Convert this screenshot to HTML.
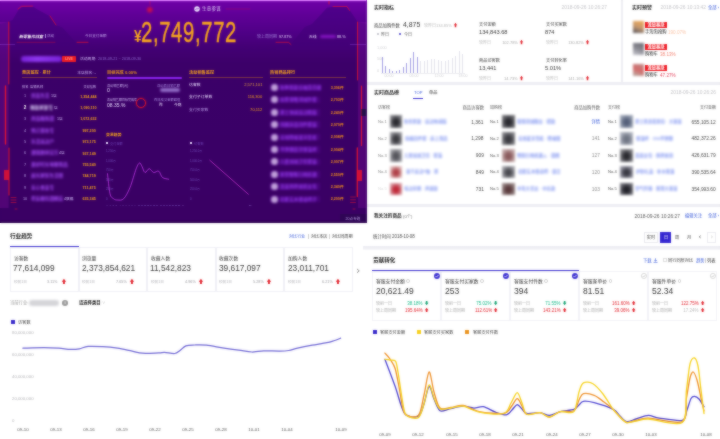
<!DOCTYPE html>
<html lang="zh-CN"><head><meta charset="utf-8"><title>生意参谋 数据看板</title>
<style>
html,body{margin:0;padding:0;}
body{width:720px;height:439px;overflow:hidden;position:relative;background:#fff;
font-family:"Liberation Sans","Noto Sans CJK SC",sans-serif;}
#root{position:absolute;left:0;top:0;width:720px;height:439px;overflow:hidden;}
#soft{position:absolute;left:0;top:0;width:720px;height:439px;-webkit-backdrop-filter:blur(0.8px);backdrop-filter:blur(0.8px);opacity:.55;pointer-events:none;}
#root div,#root span,#root svg{position:absolute;}
#root span{white-space:nowrap;display:block;}
#root svg{overflow:visible;}
.bl{filter:blur(1.2px);}
#bk{position:absolute;left:0;top:0;width:720px;height:439px;overflow:hidden;}
#bk div{position:absolute;}
</style></head><body><div id="bk"><div style="left:0;top:0;width:366.5px;height:222.8px;background:linear-gradient(180deg,#7000a8 0px,#5f0096 16px,#500087 32px,#430074 48px,#3c0069 64px,#3a0064 220px,#2c004e 222.6px);"></div><div style="left:0;top:0;width:366.5px;height:1.2px;background:#d878fa;"></div><div style="left:366.5px;top:0;width:353.5px;height:222.5px;background:#eeeef3;"></div><div style="left:623px;top:0;width:97px;height:82px;background:#fff;"></div><div style="left:367px;top:0;width:253.5px;height:82px;background:#fff;"></div></div><div id="root">
<!-- top-left -->
<div style="left:0;top:0;width:366.5px;height:222.8px;overflow:hidden;background:linear-gradient(180deg,#7000a8 0px,#5f0096 16px,#500087 32px,#430074 48px,#3c0069 64px,#3a0064 220px,#2c004e 222.6px);"></div>
<svg style="left:0;top:0" width="366.5" height="222.5" viewBox="0 0 366.5 222.5"><defs><linearGradient id="mg" x1="0" y1="0" x2="0" y2="1"><stop offset="0" stop-color="#4e008a"/><stop offset="0.75" stop-color="#45007a"/><stop offset="1" stop-color="#430076"/></linearGradient></defs><path d="M0,24 L6,22.5 L12.5,20 L18.7,9.4 L22.5,6.9 L33.7,6.9 L37.5,9.4 L50,16.2 L56,25 L62.5,27.5 L76,42.5 L90,42.5 L90,50 L0,50 Z" fill="url(#mg)" opacity=".95"/><path d="M366.5,24 L360,22.5 L357,21 L350,10.5 L346.5,6.8 L333,6.8 L327,7.8 L312,24 L304.7,27 L291,44 L276,43 L276,50 L366.5,50 Z" fill="url(#mg)" opacity=".95"/><rect x="0" y="0" width="366.5" height="1.2" fill="#d878fa"/><rect x="0" y="22" width="8.6" height="186" fill="#b020c0" opacity=".2"/><rect x="358" y="22" width="8.5" height="186" fill="#b020c0" opacity=".2"/><g fill="none" stroke="#ee142c" stroke-width="0.8" stroke-linecap="round"><path d="M18,9 L21.5,6.3 L32.5,6.1" opacity=".8"/><path d="M50,16 L56,25" opacity=".8"/><path d="M77,42.3 L88,42.3" opacity=".9"/><path d="M17,42.3 L55,42.3" opacity=".6" stroke-width="0.6"/><path d="M8.8,22 L8.8,84" opacity=".95" stroke-width="0.9"/><path d="M5.5,86 L5.5,144" opacity=".9" stroke-width="1.4"/><path d="M9,148 L9,195" opacity=".85" stroke-width="1.1"/><path d="M11,197.5 L16,197.5 M11,200 L16,200 M11,202.5 L16,202.5 M15,209 L17,209" stroke-width="0.7" opacity=".75"/><path d="M333,6.5 L347,6.5 L349.5,10.5" opacity=".8"/><path d="M276,42.3 L288.5,42.3 L291,44.5" opacity=".8"/><path d="M357.6,22 L357.6,80" opacity=".95" stroke-width="0.9"/><path d="M361.5,86 L361.5,145.5" opacity=".85" stroke-width="1.2"/><path d="M357.3,148 L357.3,196.5" opacity=".9" stroke-width="1.3"/><path d="M350.5,197 L355.5,197 M350.5,199.8 L355.5,199.8 M350.5,202.5 L355.5,202.5 M353,209 L355,209" stroke-width="0.7" opacity=".75"/><path d="M150,1.5 L150,5" stroke-width="0.8" opacity=".5"/><path d="M329,1.5 L329,4"/><path d="M226,9 L250,9" stroke-width="0.5" opacity=".5"/></g><rect x="4" y="170" width="5" height="10" fill="#ee142c" opacity=".8"/><rect x="357" y="170" width="5" height="11" fill="#ee142c" opacity=".8"/><circle cx="149.8" cy="9.8" r="2.8" fill="#ee142c" opacity=".7" style="filter:blur(0.9px)"/><path d="M0,44.5 L15,44.5" stroke="#a050e8" stroke-width="0.5" opacity=".7"/><path d="M350,44.5 L366,44.5" stroke="#a050e8" stroke-width="0.5" opacity=".7"/><rect x="361.4" y="109" width="5" height="7" fill="#24104a"/></svg>
<svg style="left:194px;top:6px" width="6" height="6" viewBox="0 0 10 10"><circle cx="5" cy="5" r="4.6" fill="#e8dcfa"/><path d="M2.6 6.4 L4.6 4.4 L5.6 5.4 L7.6 3.2" fill="none" stroke="#6a10b8" stroke-width="1.2"/></svg>
<span style="top:6px;font-size:45px;line-height:54px;color:#dccdf5;left:201.8px;transform-origin:0 0;transform:scale(0.1);letter-spacing:0.06em;">生意参谋</span>
<span style="left:134.2px;top:27px;font-size:17px;line-height:20px;color:#f7a61e;font-weight:700;transform:scaleX(0.8);transform-origin:0 0;">¥</span>
<span style="left:141.2px;top:16.2px;font-size:29px;line-height:33px;color:#f7a61e;font-weight:400;-webkit-text-stroke:0.45px #f7a61e;transform:scaleX(0.70);transform-origin:0 0;letter-spacing:0.9px;">2,749,772</span>
<span style="top:34px;font-size:40px;line-height:48px;color:#fff;font-weight:700;left:19.5px;transform-origin:0 0;transform:scale(0.1) skewX(-14deg);">新零售作战室</span>
<div style="left:45.2px;top:33.8px;width:0.5px;height:4.4px;background:#b090e0;"></div>
<span style="top:34px;font-size:36px;line-height:43.2px;color:#b79be6;left:46.8px;transform-origin:0 0;transform:scale(0.1);">活动</span>
<span style="top:34px;font-size:36px;line-height:43.2px;color:#bfa2ea;left:84.8px;transform-origin:0 0;transform:scale(0.1);">今日支付金额</span>
<span style="top:34px;font-size:40px;line-height:48px;color:#9f80d8;left:256.6px;transform-origin:0 0;transform:scale(0.1);">较上周同期</span>
<span style="top:35px;font-size:37px;line-height:44.4px;color:#e6d8ff;left:278.6px;transform-origin:0 0;transform:scale(0.1);">97.87%</span>
<span style="top:34px;font-size:38px;line-height:45.6px;color:#e6d8ff;left:308.8px;transform-origin:0 0;transform:scale(0.1);">无线</span>
<div style="left:319.5px;top:34.6px;width:16px;height:3px;background:#8414c0;border-radius:1.5px;filter:blur(0.8px);"></div>
<span style="top:34px;font-size:38px;line-height:45.6px;color:#e6d8ff;left:336.8px;transform-origin:0 0;transform:scale(0.1);">88.%</span>
<div style="left:21px;top:55.8px;width:41px;height:5.8px;background:linear-gradient(90deg,#7a22d8,#8d36ec 40%,#7a22d8);border-radius:3px;filter:blur(1.2px);"></div>
<div style="left:62px;top:56px;width:13.5px;height:5.5px;background:#ee1c25;border-radius:0.8px;"></div>
<span style="top:57px;font-size:34px;line-height:40.8px;color:#ff9a8a;font-weight:700;left:68.7px;transform-origin:0 0;transform:scale(0.1) translateX(-50%);">LIVE</span>
<span style="top:56px;font-size:38px;line-height:45.6px;color:#cdb4f2;left:80px;transform-origin:0 0;transform:scale(0.1);">活动周期:</span>
<span style="top:56px;font-size:38px;line-height:45.6px;color:#8f6ad0;left:98px;transform-origin:0 0;transform:scale(0.1);">2018-09-21 ~ 2018-09-30</span>
<span style="top:70px;font-size:42px;line-height:50.4px;color:#f5a41c;font-weight:700;left:22px;transform-origin:0 0;transform:scale(0.1);">竞店监控 · 累计</span>
<div style="left:22px;top:77.3px;width:74.5px;height:0.6px;background:#a8582e;opacity:.6;"></div>
<span style="top:70px;font-size:38px;line-height:45.6px;color:#cdb4f2;right:624px;transform-origin:100% 0;transform:scale(0.1);">本店排名: -</span>
<span style="top:70px;font-size:42px;line-height:50.4px;color:#e8981c;font-weight:700;left:106.8px;transform-origin:0 0;transform:scale(0.1);">目标完成 0.00%</span>
<div style="left:107px;top:76.8px;width:75px;height:2px;background:#8a22ee;border-radius:1px;"></div>
<span style="top:70px;font-size:42px;line-height:50.4px;color:#f5a41c;font-weight:700;left:188.5px;transform-origin:0 0;transform:scale(0.1);">活动销售监控</span>
<div style="left:188.5px;top:77.3px;width:74.5px;height:0.6px;background:#a8582e;opacity:.6;"></div>
<span style="top:70px;font-size:42px;line-height:50.4px;color:#f5a41c;font-weight:700;left:270px;transform-origin:0 0;transform:scale(0.1);">热销商品排行</span>
<div style="left:270px;top:77.3px;width:75.5px;height:0.6px;background:#a8582e;opacity:.6;"></div>
<span style="top:85px;font-size:33px;line-height:39.6px;color:#cdb4f2;left:21.8px;transform-origin:0 0;transform:scale(0.1);">排名</span>
<span style="top:85px;font-size:33px;line-height:39.6px;color:#cdb4f2;left:29.6px;transform-origin:0 0;transform:scale(0.1);">店铺名称</span>
<span style="top:85px;font-size:31px;line-height:37.2px;color:#cdb4f2;right:624px;transform-origin:100% 0;transform:scale(0.1);">交易指数</span>
<span style="top:93px;font-size:38px;line-height:45.6px;color:#b9a0e6;left:24.5px;transform-origin:0 0;transform:scale(0.1) translateX(-50%);">1</span>
<span style="top:93px;font-size:46px;line-height:55.2px;color:#a64ef8;font-weight:700;left:31px;transform-origin:0 0;transform:scale(0.1);filter:blur(9px);">优品生活</span>
<span style="top:94px;font-size:37px;line-height:44.4px;color:#c8b0f0;left:50.5px;transform-origin:0 0;transform:scale(0.1);">1店</span>
<span style="top:95px;font-size:37px;line-height:44.4px;color:#f5a41c;font-weight:700;right:623.8px;transform-origin:100% 0;transform:scale(0.1);">1,354,444</span>
<span style="top:105px;font-size:46px;line-height:55.2px;color:#fff;font-weight:700;left:24.5px;transform-origin:0 0;transform:scale(0.1) translateX(-50%);">2</span>
<span style="top:105px;font-size:46px;line-height:55.2px;color:#dccff8;font-weight:700;left:30px;transform-origin:0 0;transform:scale(0.1);filter:blur(9px);">雅致家居专</span>
<span style="top:106px;font-size:37px;line-height:44.4px;color:#c8b0f0;left:53.5px;transform-origin:0 0;transform:scale(0.1);">店</span>
<span style="top:106px;font-size:37px;line-height:44.4px;color:#f5a41c;font-weight:700;right:623.8px;transform-origin:100% 0;transform:scale(0.1);">1,090,110</span>
<span style="top:116px;font-size:38px;line-height:45.6px;color:#b9a0e6;left:24.5px;transform-origin:0 0;transform:scale(0.1) translateX(-50%);">3</span>
<span style="top:116px;font-size:46px;line-height:55.2px;color:#a64ef8;font-weight:700;left:31px;transform-origin:0 0;transform:scale(0.1);filter:blur(9px);">尚品服饰旗</span>
<span style="top:117px;font-size:37px;line-height:44.4px;color:#c8b0f0;left:56.5px;transform-origin:0 0;transform:scale(0.1);">1店</span>
<span style="top:117px;font-size:37px;line-height:44.4px;color:#f5a41c;font-weight:700;right:623.8px;transform-origin:100% 0;transform:scale(0.1);">1,072,632</span>
<span style="top:128px;font-size:38px;line-height:45.6px;color:#b9a0e6;left:24.5px;transform-origin:0 0;transform:scale(0.1) translateX(-50%);">4</span>
<span style="top:128px;font-size:46px;line-height:55.2px;color:#a64ef8;font-weight:700;left:31px;transform-origin:0 0;transform:scale(0.1);filter:blur(9px);">悦己美妆专</span>
<span style="top:129px;font-size:37px;line-height:44.4px;color:#f5a41c;font-weight:700;right:623.8px;transform-origin:100% 0;transform:scale(0.1);">997,200</span>
<span style="top:139px;font-size:38px;line-height:45.6px;color:#b9a0e6;left:24.5px;transform-origin:0 0;transform:scale(0.1) translateX(-50%);">5</span>
<span style="top:139px;font-size:46px;line-height:55.2px;color:#a64ef8;font-weight:700;left:31px;transform-origin:0 0;transform:scale(0.1);filter:blur(9px);">乐活运动户</span>
<span style="top:140px;font-size:37px;line-height:44.4px;color:#f5a41c;font-weight:700;right:623.8px;transform-origin:100% 0;transform:scale(0.1);">973,175</span>
<span style="top:150px;font-size:38px;line-height:45.6px;color:#b9a0e6;left:24.5px;transform-origin:0 0;transform:scale(0.1) translateX(-50%);">6</span>
<span style="top:150px;font-size:46px;line-height:55.2px;color:#a64ef8;font-weight:700;left:31px;transform-origin:0 0;transform:scale(0.1);filter:blur(9px);">潮流数码官方</span>
<span style="top:151px;font-size:37px;line-height:44.4px;color:#c8b0f0;left:58.5px;transform-origin:0 0;transform:scale(0.1);">4店</span>
<span style="top:152px;font-size:37px;line-height:44.4px;color:#f5a41c;font-weight:700;right:623.8px;transform-origin:100% 0;transform:scale(0.1);">937,149</span>
<span style="top:162px;font-size:38px;line-height:45.6px;color:#b9a0e6;left:24.5px;transform-origin:0 0;transform:scale(0.1) translateX(-50%);">7</span>
<span style="top:162px;font-size:46px;line-height:55.2px;color:#a64ef8;font-weight:700;left:31px;transform-origin:0 0;transform:scale(0.1);filter:blur(9px);">美好时光母婴用品</span>
<span style="top:163px;font-size:37px;line-height:44.4px;color:#f5a41c;font-weight:700;right:623.8px;transform-origin:100% 0;transform:scale(0.1);">755,540</span>
<span style="top:173px;font-size:38px;line-height:45.6px;color:#b9a0e6;left:24.5px;transform-origin:0 0;transform:scale(0.1) translateX(-50%);">8</span>
<span style="top:173px;font-size:46px;line-height:55.2px;color:#a64ef8;font-weight:700;left:31px;transform-origin:0 0;transform:scale(0.1);filter:blur(9px);">晨光家纺生活馆</span>
<span style="top:174px;font-size:37px;line-height:44.4px;color:#f5a41c;font-weight:700;right:623.8px;transform-origin:100% 0;transform:scale(0.1);">744,719</span>
<span style="top:185px;font-size:38px;line-height:45.6px;color:#b9a0e6;left:24.5px;transform-origin:0 0;transform:scale(0.1) translateX(-50%);">9</span>
<span style="top:185px;font-size:46px;line-height:55.2px;color:#a64ef8;font-weight:700;left:31px;transform-origin:0 0;transform:scale(0.1);filter:blur(9px);">安心食品专</span>
<span style="top:186px;font-size:37px;line-height:44.4px;color:#f5a41c;font-weight:700;right:623.8px;transform-origin:100% 0;transform:scale(0.1);">711,475</span>
<span style="top:196px;font-size:38px;line-height:45.6px;color:#b9a0e6;left:24.5px;transform-origin:0 0;transform:scale(0.1) translateX(-50%);">10</span>
<span style="top:196px;font-size:46px;line-height:55.2px;color:#a64ef8;font-weight:700;left:31px;transform-origin:0 0;transform:scale(0.1);filter:blur(9px);">星辰箱包旗舰店</span>
<span style="top:197px;font-size:37px;line-height:44.4px;color:#c8b0f0;left:63.5px;transform-origin:0 0;transform:scale(0.1);">4旗舰</span>
<span style="top:197px;font-size:37px;line-height:44.4px;color:#f5a41c;font-weight:700;right:623.8px;transform-origin:100% 0;transform:scale(0.1);">635,345</span>
<span style="top:84px;font-size:32px;line-height:38.4px;color:#cdb4f2;left:107px;transform-origin:0 0;transform:scale(0.1);">活动销售额(元)</span>
<span style="top:87px;font-size:52px;line-height:62.4px;color:#e8dcff;left:107px;transform-origin:0 0;transform:scale(0.1);">0</span>
<span style="top:84px;font-size:33px;line-height:39.6px;color:#a88ae0;left:156.5px;transform-origin:0 0;transform:scale(0.1);">活动首日销售额</span>
<div style="left:160px;top:88px;width:20px;height:4.4px;background:#a88ae0;border-radius:2px;filter:blur(1.2px);opacity:.8"></div>
<span style="top:98px;font-size:30px;line-height:36px;color:#cdb4f2;left:107px;transform-origin:0 0;transform:scale(0.1);">活动销售额目标完成率</span>
<span style="top:102px;font-size:50px;line-height:60px;color:#e8dcff;left:107px;transform-origin:0 0;transform:scale(0.1);">08.35.%</span>
<div style="left:136px;top:98.2px;width:10px;height:10px;border-radius:50%;border:1.2px solid #e0142a;box-sizing:border-box;box-shadow:0 0 1.5px #e0142a;"></div>
<span style="top:98px;font-size:33px;line-height:39.6px;color:#a88ae0;left:153.8px;transform-origin:0 0;transform:scale(0.1);">昨日成交金额峰值</span>
<span style="top:102px;font-size:38px;line-height:45.6px;color:#e8dcff;left:159px;transform-origin:0 0;transform:scale(0.1);">昨</span>
<span style="top:102px;font-size:38px;line-height:45.6px;color:#e8dcff;left:174px;transform-origin:0 0;transform:scale(0.1);">今晚</span>
<span style="top:132px;font-size:39px;line-height:46.8px;color:#f5a41c;font-weight:700;left:105.5px;transform-origin:0 0;transform:scale(0.1);">交易趋势</span>
<div style="left:106px;top:142px;width:2.2px;height:2.2px;background:#e8dcff;"></div>
<span style="top:142px;font-size:32px;line-height:38.4px;color:#6a3eb0;left:110px;transform-origin:0 0;transform:scale(0.1);">支付金额</span>
<span style="top:149px;font-size:28px;line-height:33.6px;color:#6f4cb8;left:106px;transform-origin:0 0;transform:scale(0.1);">1,250万</span>
<span style="top:159px;font-size:28px;line-height:33.6px;color:#6f4cb8;left:106px;transform-origin:0 0;transform:scale(0.1);">1,000万</span>
<span style="top:168px;font-size:28px;line-height:33.6px;color:#6f4cb8;left:106px;transform-origin:0 0;transform:scale(0.1);">750万</span>
<span style="top:178px;font-size:28px;line-height:33.6px;color:#6f4cb8;left:106px;transform-origin:0 0;transform:scale(0.1);">500万</span>
<span style="top:187px;font-size:28px;line-height:33.6px;color:#6f4cb8;left:106px;transform-origin:0 0;transform:scale(0.1);">250万</span>
<span style="top:197px;font-size:28px;line-height:33.6px;color:#6f4cb8;left:106px;transform-origin:0 0;transform:scale(0.1);">0</span>
<span style="top:204px;font-size:22px;line-height:26.4px;color:#7d58c4;left:107.0px;transform-origin:0 0;transform:scale(0.1) translateX(-50%);">0</span>
<span style="top:204px;font-size:22px;line-height:26.4px;color:#7d58c4;left:110.15px;transform-origin:0 0;transform:scale(0.1) translateX(-50%);">1</span>
<span style="top:204px;font-size:22px;line-height:26.4px;color:#7d58c4;left:113.3px;transform-origin:0 0;transform:scale(0.1) translateX(-50%);">2</span>
<span style="top:204px;font-size:22px;line-height:26.4px;color:#7d58c4;left:116.45px;transform-origin:0 0;transform:scale(0.1) translateX(-50%);">3</span>
<span style="top:204px;font-size:22px;line-height:26.4px;color:#7d58c4;left:119.6px;transform-origin:0 0;transform:scale(0.1) translateX(-50%);">4</span>
<span style="top:204px;font-size:22px;line-height:26.4px;color:#7d58c4;left:122.75px;transform-origin:0 0;transform:scale(0.1) translateX(-50%);">5</span>
<span style="top:204px;font-size:22px;line-height:26.4px;color:#7d58c4;left:125.9px;transform-origin:0 0;transform:scale(0.1) translateX(-50%);">6</span>
<span style="top:204px;font-size:22px;line-height:26.4px;color:#7d58c4;left:129.05px;transform-origin:0 0;transform:scale(0.1) translateX(-50%);">7</span>
<span style="top:204px;font-size:22px;line-height:26.4px;color:#7d58c4;left:132.2px;transform-origin:0 0;transform:scale(0.1) translateX(-50%);">8</span>
<span style="top:204px;font-size:22px;line-height:26.4px;color:#7d58c4;left:135.35px;transform-origin:0 0;transform:scale(0.1) translateX(-50%);">9</span>
<span style="top:204px;font-size:22px;line-height:26.4px;color:#7d58c4;left:138.5px;transform-origin:0 0;transform:scale(0.1) translateX(-50%);">10</span>
<span style="top:204px;font-size:22px;line-height:26.4px;color:#7d58c4;left:141.65px;transform-origin:0 0;transform:scale(0.1) translateX(-50%);">11</span>
<span style="top:204px;font-size:22px;line-height:26.4px;color:#7d58c4;left:144.8px;transform-origin:0 0;transform:scale(0.1) translateX(-50%);">12</span>
<span style="top:204px;font-size:22px;line-height:26.4px;color:#7d58c4;left:147.95px;transform-origin:0 0;transform:scale(0.1) translateX(-50%);">13</span>
<span style="top:204px;font-size:22px;line-height:26.4px;color:#7d58c4;left:151.1px;transform-origin:0 0;transform:scale(0.1) translateX(-50%);">14</span>
<span style="top:204px;font-size:22px;line-height:26.4px;color:#7d58c4;left:154.25px;transform-origin:0 0;transform:scale(0.1) translateX(-50%);">15</span>
<span style="top:204px;font-size:22px;line-height:26.4px;color:#7d58c4;left:157.4px;transform-origin:0 0;transform:scale(0.1) translateX(-50%);">16</span>
<span style="top:204px;font-size:22px;line-height:26.4px;color:#7d58c4;left:160.55px;transform-origin:0 0;transform:scale(0.1) translateX(-50%);">17</span>
<span style="top:204px;font-size:22px;line-height:26.4px;color:#7d58c4;left:163.7px;transform-origin:0 0;transform:scale(0.1) translateX(-50%);">18</span>
<span style="top:204px;font-size:22px;line-height:26.4px;color:#7d58c4;left:166.85px;transform-origin:0 0;transform:scale(0.1) translateX(-50%);">19</span>
<span style="top:204px;font-size:22px;line-height:26.4px;color:#7d58c4;left:170.0px;transform-origin:0 0;transform:scale(0.1) translateX(-50%);">20</span>
<span style="top:204px;font-size:22px;line-height:26.4px;color:#7d58c4;left:173.14999999999998px;transform-origin:0 0;transform:scale(0.1) translateX(-50%);">21</span>
<span style="top:204px;font-size:22px;line-height:26.4px;color:#7d58c4;left:176.3px;transform-origin:0 0;transform:scale(0.1) translateX(-50%);">22</span>
<span style="top:204px;font-size:22px;line-height:26.4px;color:#7d58c4;left:179.45px;transform-origin:0 0;transform:scale(0.1) translateX(-50%);">23</span>
<svg style="left:0;top:0" width="366" height="222" viewBox="0 0 366 222"><path d="M107.5,173.7 C107.9,177.0 109.0,189.5 110.0,193.7 C111.0,197.9 112.2,197.6 113.5,198.7 C114.8,199.8 115.8,200.0 117.5,200.0 C119.2,200.0 121.6,200.8 123.7,198.7 C125.8,196.6 127.9,192.5 130.0,187.5 C132.1,182.5 134.6,172.8 136.2,168.7 C137.8,164.6 138.5,163.4 139.5,163.0 C140.5,162.6 141.1,164.9 142.0,166.5 C142.9,168.1 143.8,172.1 145.0,172.5 C146.2,172.9 147.8,168.7 149.2,168.7 C150.6,168.7 152.1,172.1 153.7,172.5 C155.3,172.9 157.2,170.4 158.7,171.2 C160.2,172.0 160.8,176.2 162.5,177.5 C164.2,178.8 167.7,178.9 168.7,179.2" fill="none" stroke="#c23ae8" stroke-width="0.8" stroke-linecap="round"/><path d="M209.5,160 L248.7,194.5" stroke="#d23ad8" stroke-width="0.7" fill="none"/></svg>
<span style="top:82px;font-size:39px;line-height:46.8px;color:#e8dcff;left:189px;transform-origin:0 0;transform:scale(0.1);">访客数</span>
<span style="top:82px;font-size:41px;line-height:49.2px;color:#e0a040;right:457.5px;transform-origin:100% 0;transform:scale(0.1);">2,571,101</span>
<span style="top:94px;font-size:39px;line-height:46.8px;color:#e8dcff;left:189px;transform-origin:0 0;transform:scale(0.1);">支付子订单数</span>
<span style="top:94px;font-size:41px;line-height:49.2px;color:#f5a41c;right:457.5px;transform-origin:100% 0;transform:scale(0.1);">116,300</span>
<span style="top:107px;font-size:39px;line-height:46.8px;color:#b79be6;left:189px;transform-origin:0 0;transform:scale(0.1);">支付买家数</span>
<span style="top:107px;font-size:41px;line-height:49.2px;color:#f5a41c;right:457.5px;transform-origin:100% 0;transform:scale(0.1);">70,112</span>
<div style="left:189.8px;top:142px;width:2.2px;height:2.2px;background:#e8dcff;"></div>
<span style="top:142px;font-size:32px;line-height:38.4px;color:#6a3eb0;left:193.8px;transform-origin:0 0;transform:scale(0.1);">访客数</span>
<span style="top:149px;font-size:28px;line-height:33.6px;color:#6f4cb8;left:190px;transform-origin:0 0;transform:scale(0.1);">1,250.0万</span>
<span style="top:159px;font-size:28px;line-height:33.6px;color:#6f4cb8;left:190px;transform-origin:0 0;transform:scale(0.1);">1,000.0万</span>
<span style="top:168px;font-size:28px;line-height:33.6px;color:#6f4cb8;left:190px;transform-origin:0 0;transform:scale(0.1);">750.0万</span>
<span style="top:178px;font-size:28px;line-height:33.6px;color:#6f4cb8;left:190px;transform-origin:0 0;transform:scale(0.1);">500.0万</span>
<span style="top:187px;font-size:28px;line-height:33.6px;color:#6f4cb8;left:190px;transform-origin:0 0;transform:scale(0.1);">250.0万</span>
<span style="top:197px;font-size:28px;line-height:33.6px;color:#6f4cb8;left:190px;transform-origin:0 0;transform:scale(0.1);">0</span>
<span style="top:204px;font-size:24px;line-height:28.8px;color:#9a7ad8;left:182.5px;transform-origin:0 0;transform:scale(0.1) translateX(-50%);">0</span>
<span style="top:204px;font-size:24px;line-height:28.8px;color:#9a7ad8;left:249.5px;transform-origin:0 0;transform:scale(0.1) translateX(-50%);">10</span>
<div style="left:270px;top:84.1px;width:50px;height:6.8px;background:#5a0c9a;opacity:.45;filter:blur(0.8px);"></div>
<div style="left:270.5px;top:83.9px;width:7.2px;height:7.2px;border-radius:50%;background:#c0a0da;filter:blur(1.1px);"></div>
<span style="top:85px;font-size:46px;line-height:55.2px;color:#9238e8;font-weight:700;left:279.5px;transform-origin:0 0;transform:scale(0.1);filter:blur(12px);">秋季新款长袖连衣裙</span>
<span style="top:86px;font-size:37px;line-height:44.4px;color:#f2901c;font-weight:700;right:376.5px;transform-origin:100% 0;transform:scale(0.1);">3,306件</span>
<div style="left:270px;top:96.5px;width:50px;height:6.8px;background:#5a0c9a;opacity:.45;filter:blur(0.8px);"></div>
<div style="left:270.5px;top:96.3px;width:7.2px;height:7.2px;border-radius:50%;background:#c0a0da;filter:blur(1.1px);"></div>
<span style="top:97px;font-size:46px;line-height:55.2px;color:#9238e8;font-weight:700;left:279.5px;transform-origin:0 0;transform:scale(0.1);filter:blur(12px);">加厚保暖羽绒外套</span>
<span style="top:98px;font-size:37px;line-height:44.4px;color:#f2901c;font-weight:700;right:376.5px;transform-origin:100% 0;transform:scale(0.1);">2,703件</span>
<div style="left:270px;top:108.9px;width:50px;height:6.8px;background:#5a0c9a;opacity:.45;filter:blur(0.8px);"></div>
<div style="left:270.5px;top:108.7px;width:7.2px;height:7.2px;border-radius:50%;background:#c0a0da;filter:blur(1.1px);"></div>
<span style="top:110px;font-size:46px;line-height:55.2px;color:#9238e8;font-weight:700;left:279.5px;transform-origin:0 0;transform:scale(0.1);filter:blur(12px);">男士休闲运动跑鞋</span>
<span style="top:111px;font-size:37px;line-height:44.4px;color:#f2901c;font-weight:700;right:376.5px;transform-origin:100% 0;transform:scale(0.1);">2,240件</span>
<div style="left:270px;top:121.3px;width:50px;height:6.8px;background:#5a0c9a;opacity:.45;filter:blur(0.8px);"></div>
<div style="left:270.5px;top:121.1px;width:7.2px;height:7.2px;border-radius:50%;background:#c0a0da;filter:blur(1.1px);"></div>
<span style="top:122px;font-size:46px;line-height:55.2px;color:#9238e8;font-weight:700;left:279.5px;transform-origin:0 0;transform:scale(0.1);filter:blur(12px);">纯棉床品四件套装</span>
<span style="top:123px;font-size:37px;line-height:44.4px;color:#f2901c;font-weight:700;right:376.5px;transform-origin:100% 0;transform:scale(0.1);">2,070件</span>
<div style="left:270px;top:133.7px;width:50px;height:6.8px;background:#5a0c9a;opacity:.45;filter:blur(0.8px);"></div>
<div style="left:270.5px;top:133.5px;width:7.2px;height:7.2px;border-radius:50%;background:#c0a0da;filter:blur(1.1px);"></div>
<span style="top:135px;font-size:46px;line-height:55.2px;color:#9238e8;font-weight:700;left:279.5px;transform-origin:0 0;transform:scale(0.1);filter:blur(12px);">无线降噪蓝牙耳机</span>
<span style="top:135px;font-size:37px;line-height:44.4px;color:#f2901c;font-weight:700;right:376.5px;transform-origin:100% 0;transform:scale(0.1);">2,008件</span>
<div style="left:270px;top:146.1px;width:50px;height:6.8px;background:#5a0c9a;opacity:.45;filter:blur(0.8px);"></div>
<div style="left:270.5px;top:145.9px;width:7.2px;height:7.2px;border-radius:50%;background:#c0a0da;filter:blur(1.1px);"></div>
<span style="top:147px;font-size:46px;line-height:55.2px;color:#9238e8;font-weight:700;left:279.5px;transform-origin:0 0;transform:scale(0.1);filter:blur(12px);">不锈钢真空保温杯</span>
<span style="top:148px;font-size:37px;line-height:44.4px;color:#f2901c;font-weight:700;right:376.5px;transform-origin:100% 0;transform:scale(0.1);">2,004件</span>
<div style="left:270px;top:158.5px;width:50px;height:6.8px;background:#5a0c9a;opacity:.45;filter:blur(0.8px);"></div>
<div style="left:270.5px;top:158.3px;width:7.2px;height:7.2px;border-radius:50%;background:#c0a0da;filter:blur(1.1px);"></div>
<span style="top:159px;font-size:46px;line-height:55.2px;color:#9238e8;font-weight:700;left:279.5px;transform-origin:0 0;transform:scale(0.1);filter:blur(12px);">儿童加绒卫衣套装</span>
<span style="top:160px;font-size:37px;line-height:44.4px;color:#f2901c;font-weight:700;right:376.5px;transform-origin:100% 0;transform:scale(0.1);">2,007件</span>
<div style="left:270px;top:170.9px;width:50px;height:6.8px;background:#5a0c9a;opacity:.45;filter:blur(0.8px);"></div>
<div style="left:270.5px;top:170.7px;width:7.2px;height:7.2px;border-radius:50%;background:#c0a0da;filter:blur(1.1px);"></div>
<span style="top:172px;font-size:46px;line-height:55.2px;color:#9238e8;font-weight:700;left:279.5px;transform-origin:0 0;transform:scale(0.1);filter:blur(12px);">家用智能扫地机器</span>
<span style="top:173px;font-size:37px;line-height:44.4px;color:#f2901c;font-weight:700;right:376.5px;transform-origin:100% 0;transform:scale(0.1);">2,550件</span>
<div style="left:270px;top:183.3px;width:50px;height:6.8px;background:#5a0c9a;opacity:.45;filter:blur(0.8px);"></div>
<div style="left:270.5px;top:183.1px;width:7.2px;height:7.2px;border-radius:50%;background:#c0a0da;filter:blur(1.1px);"></div>
<span style="top:184px;font-size:46px;line-height:55.2px;color:#9238e8;font-weight:700;left:279.5px;transform-origin:0 0;transform:scale(0.1);filter:blur(12px);">真皮斜挎单肩女包</span>
<span style="top:185px;font-size:37px;line-height:44.4px;color:#f2901c;font-weight:700;right:376.5px;transform-origin:100% 0;transform:scale(0.1);">2,340件</span>
<div style="left:270px;top:195.7px;width:50px;height:6.8px;background:#5a0c9a;opacity:.45;filter:blur(0.8px);"></div>
<div style="left:270.5px;top:195.5px;width:7.2px;height:7.2px;border-radius:50%;background:#c0a0da;filter:blur(1.1px);"></div>
<span style="top:197px;font-size:46px;line-height:55.2px;color:#9238e8;font-weight:700;left:279.5px;transform-origin:0 0;transform:scale(0.1);filter:blur(12px);">北欧实木餐桌椅子</span>
<span style="top:197px;font-size:37px;line-height:44.4px;color:#f2901c;font-weight:700;right:376.5px;transform-origin:100% 0;transform:scale(0.1);">2,200件</span>
<div style="left:340px;top:214.3px;width:26.5px;height:8.2px;background:#2f0556;"></div>
<span style="top:217px;font-size:36px;line-height:43.2px;color:#b9a0e0;left:352.5px;transform-origin:0 0;transform:scale(0.1) translateX(-50%);">20点专题</span>
<!-- top-right -->
<div style="left:366.5px;top:0px;width:353.5px;height:222.5px;background:#eeeef3;"></div>
<div style="left:367px;top:0px;width:253.5px;height:82px;background:#fff;"></div>
<div style="left:623px;top:0px;width:97px;height:82px;background:#fff;"></div>
<div style="left:367px;top:85px;width:353px;height:118.5px;background:#fff;"></div>
<div style="left:367px;top:206.5px;width:353px;height:16px;background:#fff;"></div>
<span style="top:4px;font-size:50px;line-height:60px;color:#222;font-weight:700;left:374px;transform-origin:0 0;transform:scale(0.1);">实时指标</span>
<span style="top:4px;font-size:49px;line-height:58.8px;color:#c4c4c8;right:113px;transform-origin:100% 0;transform:scale(0.1);">2018-09-26 10:26:27</span>
<span style="top:23px;font-size:43px;line-height:51.6px;color:#333;left:374px;transform-origin:0 0;transform:scale(0.1);">商品加购件数</span>
<span style="top:21px;font-size:69px;line-height:82.8px;color:#333;left:403.3px;transform-origin:0 0;transform:scale(0.1);">4,875</span>
<span style="top:23px;font-size:40px;line-height:48px;color:#bbb;left:424px;transform-origin:0 0;transform:scale(0.1);">较昨日134.85%</span>
<svg style="left:453.5px;top:23.3px" width="3" height="4.3" viewBox="0 0 4 6" preserveAspectRatio="none" overflow="visible"><path d="M2 -0.2 L4.2 3.3 L3 3.3 L3 6 L1 6 L1 3.3 L-0.2 3.3 Z" fill="#e0202a"/></svg>
<div style="left:376.5px;top:33px;width:2.2px;height:2.2px;background:#c8c8d0;"></div>
<span style="top:32px;font-size:40px;line-height:48px;color:#555;left:381px;transform-origin:0 0;transform:scale(0.1);">昨日</span>
<div style="left:399px;top:33px;width:2.2px;height:2.2px;background:#6a62d2;"></div>
<span style="top:32px;font-size:40px;line-height:48px;color:#555;left:403.5px;transform-origin:0 0;transform:scale(0.1);">今日</span>
<span style="top:45px;font-size:39px;line-height:46.8px;color:#d2d2d6;left:376.5px;transform-origin:0 0;transform:scale(0.1);">1,000</span>
<span style="top:56px;font-size:39px;line-height:46.8px;color:#d2d2d6;left:376.5px;transform-origin:0 0;transform:scale(0.1);">500</span>
<span style="top:68px;font-size:39px;line-height:46.8px;color:#d2d2d6;left:376.5px;transform-origin:0 0;transform:scale(0.1);">0</span>
<span style="top:74px;font-size:36px;line-height:43.2px;color:#d2d2d6;left:389px;transform-origin:0 0;transform:scale(0.1) translateX(-50%);">00:00</span>
<span style="top:74px;font-size:36px;line-height:43.2px;color:#d2d2d6;left:413.5px;transform-origin:0 0;transform:scale(0.1) translateX(-50%);">06:00</span>
<span style="top:74px;font-size:36px;line-height:43.2px;color:#d2d2d6;left:439px;transform-origin:0 0;transform:scale(0.1) translateX(-50%);">12:00</span>
<span style="top:74px;font-size:36px;line-height:43.2px;color:#d2d2d6;left:463.3px;transform-origin:0 0;transform:scale(0.1) translateX(-50%);">18:00</span>
<div style="left:381px;top:72.9px;width:84px;height:0.4px;background:#ececf0;"></div>
<div style="left:381.6px;top:56.8px;width:1.1px;height:16.2px;background:#9f9ce2;"></div>
<div style="left:385.1px;top:65.5px;width:1.1px;height:7.5px;background:#9f9ce2;"></div>
<div style="left:388.6px;top:69.2px;width:1.1px;height:3.8px;background:#9f9ce2;"></div>
<div style="left:392.1px;top:71px;width:1.1px;height:2px;background:#9f9ce2;"></div>
<div style="left:395.6px;top:71.2px;width:1.1px;height:1.8px;background:#9f9ce2;"></div>
<div style="left:399.1px;top:70px;width:1.1px;height:3px;background:#9f9ce2;"></div>
<div style="left:402.6px;top:67.2px;width:1.1px;height:5.8px;background:#9f9ce2;"></div>
<div style="left:406.1px;top:63px;width:1.1px;height:10px;background:#9f9ce2;"></div>
<div style="left:409.6px;top:58px;width:1.1px;height:15px;background:#9f9ce2;"></div>
<div style="left:413.1px;top:52.2px;width:1.1px;height:20.8px;background:#9f9ce2;"></div>
<div style="left:416.6px;top:57.2px;width:1.1px;height:15.8px;background:#9f9ce2;"></div>
<div style="left:420.1px;top:60.5px;width:1.1px;height:12.5px;background:#e2e2ea;"></div>
<div style="left:423.6px;top:60.5px;width:1.1px;height:12.5px;background:#e2e2ea;"></div>
<div style="left:427.1px;top:60px;width:1.1px;height:13px;background:#e2e2ea;"></div>
<div style="left:430.6px;top:59.2px;width:1.1px;height:13.8px;background:#e2e2ea;"></div>
<div style="left:434.1px;top:58.8px;width:1.1px;height:14.2px;background:#e2e2ea;"></div>
<div style="left:437.6px;top:60px;width:1.1px;height:13px;background:#e2e2ea;"></div>
<div style="left:441.1px;top:60.5px;width:1.1px;height:12.5px;background:#e2e2ea;"></div>
<div style="left:444.6px;top:60.5px;width:1.1px;height:12.5px;background:#e2e2ea;"></div>
<div style="left:448.1px;top:60px;width:1.1px;height:13px;background:#e2e2ea;"></div>
<div style="left:451.6px;top:58px;width:1.1px;height:15px;background:#e2e2ea;"></div>
<div style="left:455.1px;top:55.5px;width:1.1px;height:17.5px;background:#e2e2ea;"></div>
<div style="left:458.6px;top:51.2px;width:1.1px;height:21.8px;background:#e2e2ea;"></div>
<div style="left:462.1px;top:54.2px;width:1.1px;height:18.8px;background:#e2e2ea;"></div>
<span style="top:22px;font-size:42px;line-height:50.4px;color:#333;left:479px;transform-origin:0 0;transform:scale(0.1);">支付金额</span>
<span style="top:29px;font-size:57px;line-height:68.4px;color:#333;left:478.8px;transform-origin:0 0;transform:scale(0.1);">134,843.68</span>
<span style="top:40px;font-size:40px;line-height:48px;color:#bbb;left:479px;transform-origin:0 0;transform:scale(0.1);">较昨日</span>
<span style="top:40px;font-size:40px;line-height:48px;color:#aaa;right:202.5px;transform-origin:100% 0;transform:scale(0.1);">102.78%</span>
<svg style="left:519.5px;top:40.099999999999994px" width="3" height="4.3" viewBox="0 0 4 6" preserveAspectRatio="none" overflow="visible"><path d="M2 -0.2 L4.2 3.3 L3 3.3 L3 6 L1 6 L1 3.3 L-0.2 3.3 Z" fill="#e0202a"/></svg>
<span style="top:22px;font-size:42px;line-height:50.4px;color:#333;left:545.5px;transform-origin:0 0;transform:scale(0.1);">支付买家数</span>
<span style="top:29px;font-size:57px;line-height:68.4px;color:#333;left:545.3px;transform-origin:0 0;transform:scale(0.1);">874</span>
<span style="top:40px;font-size:40px;line-height:48px;color:#bbb;left:545.5px;transform-origin:0 0;transform:scale(0.1);">较昨日</span>
<span style="top:40px;font-size:40px;line-height:48px;color:#aaa;right:136px;transform-origin:100% 0;transform:scale(0.1);">130.82%</span>
<svg style="left:586px;top:40.099999999999994px" width="3" height="4.3" viewBox="0 0 4 6" preserveAspectRatio="none" overflow="visible"><path d="M2 -0.2 L4.2 3.3 L3 3.3 L3 6 L1 6 L1 3.3 L-0.2 3.3 Z" fill="#e0202a"/></svg>
<span style="top:58px;font-size:42px;line-height:50.4px;color:#333;left:479px;transform-origin:0 0;transform:scale(0.1);">商品访客数</span>
<span style="top:65px;font-size:57px;line-height:68.4px;color:#333;left:478.8px;transform-origin:0 0;transform:scale(0.1);">13,441</span>
<span style="top:76px;font-size:40px;line-height:48px;color:#bbb;left:479px;transform-origin:0 0;transform:scale(0.1);">较昨日</span>
<span style="top:76px;font-size:40px;line-height:48px;color:#aaa;right:202.5px;transform-origin:100% 0;transform:scale(0.1);">14.73%</span>
<svg style="left:519.5px;top:76.1px" width="3" height="4.3" viewBox="0 0 4 6" preserveAspectRatio="none" overflow="visible"><path d="M2 -0.2 L4.2 3.3 L3 3.3 L3 6 L1 6 L1 3.3 L-0.2 3.3 Z" fill="#e0202a"/></svg>
<span style="top:58px;font-size:42px;line-height:50.4px;color:#333;left:545.5px;transform-origin:0 0;transform:scale(0.1);">支付转化率</span>
<span style="top:65px;font-size:57px;line-height:68.4px;color:#333;left:545.3px;transform-origin:0 0;transform:scale(0.1);">5.01%</span>
<span style="top:76px;font-size:40px;line-height:48px;color:#bbb;left:545.5px;transform-origin:0 0;transform:scale(0.1);">较昨日</span>
<span style="top:76px;font-size:40px;line-height:48px;color:#aaa;right:136px;transform-origin:100% 0;transform:scale(0.1);">141.16%</span>
<svg style="left:586px;top:76.1px" width="3" height="4.3" viewBox="0 0 4 6" preserveAspectRatio="none" overflow="visible"><path d="M2 -0.2 L4.2 3.3 L3 3.3 L3 6 L1 6 L1 3.3 L-0.2 3.3 Z" fill="#e0202a"/></svg>
<span style="top:4px;font-size:50px;line-height:60px;color:#222;font-weight:700;left:632px;transform-origin:0 0;transform:scale(0.1);">实时预警</span>
<span style="top:4px;font-size:49px;line-height:58.8px;color:#c4c4c8;right:14.5px;transform-origin:100% 0;transform:scale(0.1);">2018-09-26 10:13:42</span>
<span style="top:5px;font-size:43px;line-height:51.6px;color:#3a5bd9;left:707.5px;transform-origin:0 0;transform:scale(0.1);">全部 ›</span>
<div class="bl" style="left:633px;top:21px;width:10.5px;height:11.5px;background:linear-gradient(200deg,#f0a850,#c89a70 50%,#55555f);filter:blur(0.9px);"></div>
<div style="left:645.3px;top:21.8px;width:22px;height:6.2px;background:#ee1c25;"></div>
<span style="top:22px;font-size:43px;line-height:51.6px;color:#fff;font-weight:700;left:656.3px;transform-origin:0 0;transform:scale(0.1) translateX(-50%);">流量暴涨</span>
<span style="top:29px;font-size:43px;line-height:51.6px;color:#222;left:645.3px;transform-origin:0 0;transform:scale(0.1);">手淘淘抢购</span>
<span style="top:30px;font-size:46px;line-height:55.2px;color:#f8c4a8;left:668.3px;transform-origin:0 0;transform:scale(0.1);">190.07%</span>
<div class="bl" style="left:633px;top:43px;width:10.5px;height:11.5px;background:linear-gradient(200deg,#6a6a74,#8a8a92 50%,#c8c8d0);filter:blur(0.9px);"></div>
<div style="left:645.3px;top:43.8px;width:22px;height:6.2px;background:#ee1c25;"></div>
<span style="top:44px;font-size:43px;line-height:51.6px;color:#fff;font-weight:700;left:656.3px;transform-origin:0 0;transform:scale(0.1) translateX(-50%);">流量暴涨</span>
<span style="top:51px;font-size:43px;line-height:51.6px;color:#222;left:645.3px;transform-origin:0 0;transform:scale(0.1);">购物车</span>
<span style="top:52px;font-size:46px;line-height:55.2px;color:#f08070;left:659.6999999999999px;transform-origin:0 0;transform:scale(0.1);">38.13%</span>
<div class="bl" style="left:633px;top:64px;width:10.5px;height:11.5px;background:linear-gradient(200deg,#c08a88,#d46a6a 50%,#b8b0a8);filter:blur(0.9px);"></div>
<div style="left:645.3px;top:64.8px;width:22px;height:6.2px;background:#ee1c25;"></div>
<span style="top:65px;font-size:43px;line-height:51.6px;color:#fff;font-weight:700;left:656.3px;transform-origin:0 0;transform:scale(0.1) translateX(-50%);">流量暴涨</span>
<span style="top:72px;font-size:43px;line-height:51.6px;color:#222;left:645.3px;transform-origin:0 0;transform:scale(0.1);">购物车</span>
<span style="top:73px;font-size:46px;line-height:55.2px;color:#e0405a;left:659.6999999999999px;transform-origin:0 0;transform:scale(0.1);">47.27%</span>
<span style="top:89px;font-size:50px;line-height:60px;color:#222;font-weight:700;left:374px;transform-origin:0 0;transform:scale(0.1);">实时商品榜</span>
<span style="top:90px;font-size:42px;line-height:50.4px;color:#3a5bd9;left:413.5px;transform-origin:0 0;transform:scale(0.1);">TOP</span>
<div style="left:413px;top:97.5px;width:9.5px;height:0.9px;background:#3a2fd0;"></div>
<span style="top:90px;font-size:42px;line-height:50.4px;color:#333;left:428.5px;transform-origin:0 0;transform:scale(0.1);">单品</span>
<span style="top:89px;font-size:49px;line-height:58.8px;color:#c4c4c8;right:4px;transform-origin:100% 0;transform:scale(0.1);">2018-09-26 10:26:26</span>
<span style="top:105px;font-size:40px;line-height:48px;color:#555;left:378px;transform-origin:0 0;transform:scale(0.1);">访客榜</span>
<span style="top:105px;font-size:43px;line-height:51.6px;color:#555;right:236.5px;transform-origin:100% 0;transform:scale(0.1);">商品访客数</span>
<span style="top:105px;font-size:40px;line-height:48px;color:#555;left:490px;transform-origin:0 0;transform:scale(0.1);">加购榜</span>
<span style="top:105px;font-size:43px;line-height:51.6px;color:#555;right:120px;transform-origin:100% 0;transform:scale(0.1);">商品加购件数</span>
<span style="top:105px;font-size:40px;line-height:48px;color:#555;left:608px;transform-origin:0 0;transform:scale(0.1);">支付榜</span>
<span style="top:105px;font-size:40px;line-height:48px;color:#555;right:4px;transform-origin:100% 0;transform:scale(0.1);">支付金额</span>
<span style="top:119px;font-size:41px;line-height:49.2px;color:#888;left:377.5px;transform-origin:0 0;transform:scale(0.1);">No.1</span>
<div style="left:389.7px;top:115.3px;width:12.6px;height:12.6px;background:radial-gradient(ellipse at 50% 55%,#2a2a30 25%,#8a8a90 75%);filter:blur(1.1px);"></div>
<span style="top:119px;font-size:43px;line-height:51.6px;color:#5a74ec;font-weight:700;left:404px;transform-origin:0 0;transform:scale(0.1);filter:blur(9px);opacity:.72;">秋冬新款 · 运动休闲鞋</span>
<span style="top:119px;font-size:48.5px;line-height:58.2px;color:#444;right:236.5px;transform-origin:100% 0;transform:scale(0.1);">1,361</span>
<span style="top:119px;font-size:41px;line-height:49.2px;color:#555;left:490px;transform-origin:0 0;transform:scale(0.1);">No.1</span>
<div style="left:502.2px;top:115.3px;width:12.6px;height:12.6px;background:radial-gradient(ellipse at 50% 55%,#2a2a30 25%,#77777c 75%);filter:blur(1.1px);"></div>
<span style="top:119px;font-size:43px;line-height:51.6px;color:#5a74ec;font-weight:700;left:517px;transform-origin:0 0;transform:scale(0.1);filter:blur(9px);opacity:.72;">轻薄羽绒服女 · 短款</span>
<span style="top:119px;font-size:43px;line-height:51.6px;color:#3a5bd9;right:120px;transform-origin:100% 0;transform:scale(0.1);">详情</span>
<span style="top:119px;font-size:41px;line-height:49.2px;color:#555;left:608px;transform-origin:0 0;transform:scale(0.1);">No.1</span>
<div style="left:620.2px;top:115.3px;width:12.6px;height:12.6px;background:radial-gradient(ellipse at 50% 55%,#55607a 25%,#a0a8b8 75%);filter:blur(1.1px);"></div>
<span style="top:119px;font-size:43px;line-height:51.6px;color:#5a74ec;font-weight:700;left:635px;transform-origin:0 0;transform:scale(0.1);filter:blur(9px);opacity:.72;">男士商务双肩包 · 大容量</span>
<span style="top:119px;font-size:48.5px;line-height:58.2px;color:#444;right:3.8px;transform-origin:100% 0;transform:scale(0.1);">655,105.12</span>
<span style="top:136px;font-size:41px;line-height:49.2px;color:#888;left:377.5px;transform-origin:0 0;transform:scale(0.1);">No.2</span>
<div style="left:389.7px;top:132.10000000000002px;width:12.6px;height:12.6px;background:radial-gradient(ellipse at 50% 55%,#3a3a40 25%,#9a9aa0 75%);filter:blur(1.1px);"></div>
<span style="top:136px;font-size:43px;line-height:51.6px;color:#5a74ec;font-weight:700;left:405px;transform-origin:0 0;transform:scale(0.1);filter:blur(9px);opacity:.72;">纯棉四件套 · 床上用品</span>
<span style="top:135px;font-size:48.5px;line-height:58.2px;color:#444;right:236.5px;transform-origin:100% 0;transform:scale(0.1);">1,298</span>
<span style="top:136px;font-size:41px;line-height:49.2px;color:#555;left:490px;transform-origin:0 0;transform:scale(0.1);">No.2</span>
<div style="left:502.2px;top:132.10000000000002px;width:12.6px;height:12.6px;background:radial-gradient(ellipse at 50% 55%,#3a3a40 25%,#88888c 75%);filter:blur(1.1px);"></div>
<span style="top:136px;font-size:43px;line-height:51.6px;color:#5a74ec;font-weight:700;left:518px;transform-origin:0 0;transform:scale(0.1);filter:blur(9px);opacity:.72;">无线蓝牙耳机 · 降噪版</span>
<span style="top:135px;font-size:48.5px;line-height:58.2px;color:#8a8a8a;right:120px;transform-origin:100% 0;transform:scale(0.1);">141</span>
<span style="top:136px;font-size:41px;line-height:49.2px;color:#555;left:608px;transform-origin:0 0;transform:scale(0.1);">No.2</span>
<div style="left:620.2px;top:132.10000000000002px;width:12.6px;height:12.6px;background:radial-gradient(ellipse at 50% 55%,#707684 25%,#b0b4c0 75%);filter:blur(1.1px);"></div>
<span style="top:136px;font-size:43px;line-height:51.6px;color:#5a74ec;font-weight:700;left:636px;transform-origin:0 0;transform:scale(0.1);filter:blur(9px);opacity:.72;">保温杯 · 316不锈钢</span>
<span style="top:135px;font-size:48.5px;line-height:58.2px;color:#444;right:3.8px;transform-origin:100% 0;transform:scale(0.1);">482,372.26</span>
<span style="top:153px;font-size:41px;line-height:49.2px;color:#888;left:377.5px;transform-origin:0 0;transform:scale(0.1);">No.3</span>
<div style="left:389.7px;top:149.0px;width:12.6px;height:12.6px;background:radial-gradient(ellipse at 50% 55%,#55555c 25%,#a8a8ae 75%);filter:blur(1.1px);"></div>
<span style="top:153px;font-size:43px;line-height:51.6px;color:#5a74ec;font-weight:700;left:404px;transform-origin:0 0;transform:scale(0.1);filter:blur(9px);opacity:.72;">儿童加绒卫衣 · 套装</span>
<span style="top:152px;font-size:48.5px;line-height:58.2px;color:#444;right:236.5px;transform-origin:100% 0;transform:scale(0.1);">909</span>
<span style="top:153px;font-size:41px;line-height:49.2px;color:#555;left:490px;transform-origin:0 0;transform:scale(0.1);">No.3</span>
<div style="left:502.2px;top:149.0px;width:12.6px;height:12.6px;background:radial-gradient(ellipse at 50% 55%,#8a5a5c 25%,#c8b0b0 75%);filter:blur(1.1px);"></div>
<span style="top:153px;font-size:43px;line-height:51.6px;color:#5a74ec;font-weight:700;left:517px;transform-origin:0 0;transform:scale(0.1);filter:blur(9px);opacity:.72;">智能扫地机器人 · 旗舰</span>
<span style="top:152px;font-size:48.5px;line-height:58.2px;color:#8a8a8a;right:120px;transform-origin:100% 0;transform:scale(0.1);">127</span>
<span style="top:153px;font-size:41px;line-height:49.2px;color:#555;left:608px;transform-origin:0 0;transform:scale(0.1);">No.3</span>
<div style="left:620.2px;top:149.0px;width:12.6px;height:12.6px;background:radial-gradient(ellipse at 50% 55%,#2a2a30 25%,#8a8a90 75%);filter:blur(1.1px);"></div>
<span style="top:153px;font-size:43px;line-height:51.6px;color:#5a74ec;font-weight:700;left:635px;transform-origin:0 0;transform:scale(0.1);filter:blur(9px);opacity:.72;">真皮女包 · 斜挎单肩</span>
<span style="top:152px;font-size:48.5px;line-height:58.2px;color:#444;right:3.8px;transform-origin:100% 0;transform:scale(0.1);">426,631.79</span>
<span style="top:169px;font-size:41px;line-height:49.2px;color:#888;left:377.5px;transform-origin:0 0;transform:scale(0.1);">No.4</span>
<div style="left:389.7px;top:165.8px;width:12.6px;height:12.6px;background:radial-gradient(ellipse at 50% 55%,#b04048 25%,#e0c0c0 75%);filter:blur(1.1px);"></div>
<span style="top:169px;font-size:43px;line-height:51.6px;color:#5a74ec;font-weight:700;left:406px;transform-origin:0 0;transform:scale(0.1);filter:blur(9px);opacity:.72;">速干运动T恤 · 男</span>
<span style="top:169px;font-size:48.5px;line-height:58.2px;color:#444;right:236.5px;transform-origin:100% 0;transform:scale(0.1);">849</span>
<span style="top:169px;font-size:41px;line-height:49.2px;color:#555;left:490px;transform-origin:0 0;transform:scale(0.1);">No.4</span>
<div style="left:502.2px;top:165.8px;width:12.6px;height:12.6px;background:radial-gradient(ellipse at 50% 55%,#4a4a50 25%,#a8a8ae 75%);filter:blur(1.1px);"></div>
<span style="top:169px;font-size:43px;line-height:51.6px;color:#5a74ec;font-weight:700;left:518px;transform-origin:0 0;transform:scale(0.1);filter:blur(9px);opacity:.72;">北欧实木餐桌椅 · 组合</span>
<span style="top:169px;font-size:48.5px;line-height:58.2px;color:#8a8a8a;right:120px;transform-origin:100% 0;transform:scale(0.1);">120</span>
<span style="top:169px;font-size:41px;line-height:49.2px;color:#555;left:608px;transform-origin:0 0;transform:scale(0.1);">No.4</span>
<div style="left:620.2px;top:165.8px;width:12.6px;height:12.6px;background:radial-gradient(ellipse at 50% 55%,#3a3a44 25%,#9a9aa8 75%);filter:blur(1.1px);"></div>
<span style="top:169px;font-size:43px;line-height:51.6px;color:#5a74ec;font-weight:700;left:636px;transform-origin:0 0;transform:scale(0.1);filter:blur(9px);opacity:.72;">护肤礼盒 · 补水保湿</span>
<span style="top:169px;font-size:48.5px;line-height:58.2px;color:#444;right:3.8px;transform-origin:100% 0;transform:scale(0.1);">390,535.64</span>
<span style="top:186px;font-size:41px;line-height:49.2px;color:#ddd;left:377.5px;transform-origin:0 0;transform:scale(0.1);">No.5</span>
<div style="left:389.7px;top:182.60000000000002px;width:12.6px;height:12.6px;background:radial-gradient(ellipse at 50% 55%,#c02838 25%,#d8a0a8 75%);filter:blur(1.1px);"></div>
<span style="top:186px;font-size:43px;line-height:51.6px;color:#5a74ec;font-weight:700;left:404px;transform-origin:0 0;transform:scale(0.1);filter:blur(9px);opacity:.72;">电动牙刷 · 声波款</span>
<span style="top:186px;font-size:48.5px;line-height:58.2px;color:#444;right:236.5px;transform-origin:100% 0;transform:scale(0.1);">731</span>
<span style="top:186px;font-size:41px;line-height:49.2px;color:#555;left:490px;transform-origin:0 0;transform:scale(0.1);">No.5</span>
<div style="left:502.2px;top:182.60000000000002px;width:12.6px;height:12.6px;background:radial-gradient(ellipse at 50% 55%,#5a3a3c 25%,#9a8a8a 75%);filter:blur(1.1px);"></div>
<span style="top:186px;font-size:43px;line-height:51.6px;color:#5a74ec;font-weight:700;left:517px;transform-origin:0 0;transform:scale(0.1);filter:blur(9px);opacity:.72;">羊毛大衣女 · 中长款</span>
<span style="top:186px;font-size:48.5px;line-height:58.2px;color:#8a8a8a;right:120px;transform-origin:100% 0;transform:scale(0.1);">103</span>
<span style="top:186px;font-size:41px;line-height:49.2px;color:#555;left:608px;transform-origin:0 0;transform:scale(0.1);">No.5</span>
<div style="left:620.2px;top:182.60000000000002px;width:12.6px;height:12.6px;background:radial-gradient(ellipse at 50% 55%,#22222a 25%,#77777f 75%);filter:blur(1.1px);"></div>
<span style="top:186px;font-size:43px;line-height:51.6px;color:#5a74ec;font-weight:700;left:635px;transform-origin:0 0;transform:scale(0.1);filter:blur(9px);opacity:.72;">空气炸锅 · 家用大容量</span>
<span style="top:186px;font-size:48.5px;line-height:58.2px;color:#444;right:3.8px;transform-origin:100% 0;transform:scale(0.1);">354,993.60</span>
<span style="top:213px;font-size:46px;line-height:55.2px;color:#222;font-weight:700;left:374px;transform-origin:0 0;transform:scale(0.1);">我关注的商品</span>
<span style="top:214px;font-size:42px;line-height:50.4px;color:#777;left:403px;transform-origin:0 0;transform:scale(0.1);">(0个)</span>
<span style="top:213px;font-size:49px;line-height:58.8px;color:#555;right:40px;transform-origin:100% 0;transform:scale(0.1);">2018-09-26 10:26:27</span>
<span style="top:213px;font-size:43px;line-height:51.6px;color:#3a5bd9;left:685px;transform-origin:0 0;transform:scale(0.1);">编辑关注</span>
<span style="top:213px;font-size:43px;line-height:51.6px;color:#3a5bd9;left:708px;transform-origin:0 0;transform:scale(0.1);">全部 ›</span>
<!-- bottom-left -->
<div style="left:0px;top:222.5px;width:362px;height:217px;background:#fff;"></div>
<span style="top:233px;font-size:56px;line-height:67.2px;color:#222;font-weight:700;left:10px;transform-origin:0 0;transform:scale(0.1);">行业趋势</span>
<span style="top:234px;font-size:41px;line-height:49.2px;color:#3a5bd9;left:289px;transform-origin:0 0;transform:scale(0.1);">对比行业</span>
<span style="top:234px;font-size:41px;line-height:49.2px;color:#333;left:310.6px;transform-origin:0 0;transform:scale(0.1);">对比本店</span>
<span style="top:234px;font-size:41px;line-height:49.2px;color:#333;left:332px;transform-origin:0 0;transform:scale(0.1);">对比同周期</span>
<div style="left:307.8px;top:233.5px;width:0.5px;height:5px;background:#ccc;"></div>
<div style="left:329.3px;top:233.5px;width:0.5px;height:5px;background:#ccc;"></div>
<div style="left:10px;top:246.5px;width:343px;height:0.6px;background:#e8e8ee;"></div>
<div style="left:10px;top:245.8px;width:68.5px;height:1.4px;background:#3a2fd0;"></div>
<div style="left:10.0px;top:247px;width:68.6px;height:45px;background:none;border:0.5px solid #f0f0f5;box-sizing:border-box;"></div>
<span style="top:255px;font-size:48px;line-height:57.6px;color:#333;left:13.5px;transform-origin:0 0;transform:scale(0.1);">访客数</span>
<span style="top:262px;font-size:96px;line-height:115.2px;color:#333;left:13.2px;transform-origin:0 0;transform:scale(0.1) scaleX(0.865);">77,614,099</span>
<span style="top:280px;font-size:36px;line-height:43.2px;color:#b0b0b6;left:13.5px;transform-origin:0 0;transform:scale(0.1);">较前1日</span>
<span style="top:279px;font-size:38px;line-height:45.6px;color:#9a9aa0;left:47.4px;transform-origin:0 0;transform:scale(0.1);">3.11%</span>
<svg style="left:61.6px;top:279.3px" width="3.9" height="5" viewBox="0 0 4 6" preserveAspectRatio="none" overflow="visible"><path d="M2 -0.2 L4.2 3.3 L3 3.3 L3 6 L1 6 L1 3.3 L-0.2 3.3 Z" fill="#e0202a"/></svg>
<div style="left:78.6px;top:247px;width:68.6px;height:45px;background:none;border:0.5px solid #f0f0f5;box-sizing:border-box;"></div>
<span style="top:255px;font-size:48px;line-height:57.6px;color:#333;left:82.1px;transform-origin:0 0;transform:scale(0.1);">浏览量</span>
<span style="top:262px;font-size:96px;line-height:115.2px;color:#333;left:81.8px;transform-origin:0 0;transform:scale(0.1) scaleX(0.865);">2,373,854,621</span>
<span style="top:280px;font-size:36px;line-height:43.2px;color:#b0b0b6;left:82.1px;transform-origin:0 0;transform:scale(0.1);">较前1日</span>
<span style="top:279px;font-size:38px;line-height:45.6px;color:#9a9aa0;left:116.0px;transform-origin:0 0;transform:scale(0.1);">7.65%</span>
<svg style="left:130.2px;top:279.3px" width="3.9" height="5" viewBox="0 0 4 6" preserveAspectRatio="none" overflow="visible"><path d="M2 -0.2 L4.2 3.3 L3 3.3 L3 6 L1 6 L1 3.3 L-0.2 3.3 Z" fill="#e0202a"/></svg>
<div style="left:147.2px;top:247px;width:68.6px;height:45px;background:none;border:0.5px solid #f0f0f5;box-sizing:border-box;"></div>
<span style="top:255px;font-size:48px;line-height:57.6px;color:#333;left:150.7px;transform-origin:0 0;transform:scale(0.1);">收藏人数</span>
<span style="top:262px;font-size:96px;line-height:115.2px;color:#333;left:150.39999999999998px;transform-origin:0 0;transform:scale(0.1) scaleX(0.865);">11,542,823</span>
<span style="top:280px;font-size:36px;line-height:43.2px;color:#b0b0b6;left:150.7px;transform-origin:0 0;transform:scale(0.1);">较前1日</span>
<span style="top:279px;font-size:38px;line-height:45.6px;color:#9a9aa0;left:184.6px;transform-origin:0 0;transform:scale(0.1);">4.96%</span>
<svg style="left:198.79999999999998px;top:279.3px" width="3.9" height="5" viewBox="0 0 4 6" preserveAspectRatio="none" overflow="visible"><path d="M2 -0.2 L4.2 3.3 L3 3.3 L3 6 L1 6 L1 3.3 L-0.2 3.3 Z" fill="#e0202a"/></svg>
<div style="left:215.79999999999998px;top:247px;width:68.6px;height:45px;background:none;border:0.5px solid #f0f0f5;box-sizing:border-box;"></div>
<span style="top:255px;font-size:48px;line-height:57.6px;color:#333;left:219.29999999999998px;transform-origin:0 0;transform:scale(0.1);">收藏次数</span>
<span style="top:262px;font-size:96px;line-height:115.2px;color:#333;left:218.99999999999997px;transform-origin:0 0;transform:scale(0.1) scaleX(0.865);">39,617,097</span>
<span style="top:280px;font-size:36px;line-height:43.2px;color:#b0b0b6;left:219.29999999999998px;transform-origin:0 0;transform:scale(0.1);">较前1日</span>
<span style="top:279px;font-size:38px;line-height:45.6px;color:#9a9aa0;left:253.2px;transform-origin:0 0;transform:scale(0.1);">5.28%</span>
<svg style="left:267.4px;top:279.3px" width="3.9" height="5" viewBox="0 0 4 6" preserveAspectRatio="none" overflow="visible"><path d="M2 -0.2 L4.2 3.3 L3 3.3 L3 6 L1 6 L1 3.3 L-0.2 3.3 Z" fill="#e0202a"/></svg>
<div style="left:284.4px;top:247px;width:68.6px;height:45px;background:none;border:0.5px solid #f0f0f5;box-sizing:border-box;"></div>
<span style="top:255px;font-size:48px;line-height:57.6px;color:#333;left:287.9px;transform-origin:0 0;transform:scale(0.1);">加购人数</span>
<span style="top:262px;font-size:96px;line-height:115.2px;color:#333;left:287.59999999999997px;transform-origin:0 0;transform:scale(0.1) scaleX(0.865);">23,011,701</span>
<span style="top:280px;font-size:36px;line-height:43.2px;color:#b0b0b6;left:287.9px;transform-origin:0 0;transform:scale(0.1);">较前1日</span>
<span style="top:279px;font-size:38px;line-height:45.6px;color:#9a9aa0;left:321.79999999999995px;transform-origin:0 0;transform:scale(0.1);">6.21%</span>
<svg style="left:336.0px;top:279.3px" width="3.9" height="5" viewBox="0 0 4 6" preserveAspectRatio="none" overflow="visible"><path d="M2 -0.2 L4.2 3.3 L3 3.3 L3 6 L1 6 L1 3.3 L-0.2 3.3 Z" fill="#e0202a"/></svg>
<span style="top:264px;font-size:110px;line-height:132px;color:#888;left:355.6px;transform-origin:0 0;transform:scale(0.1);font-family:'DejaVu Sans',sans-serif;">›</span>
<span style="top:300px;font-size:43px;line-height:51.6px;color:#999;left:10px;transform-origin:0 0;transform:scale(0.1);">当前行业:</span>
<div style="left:29px;top:300px;width:30px;height:6px;background:#d4d4d8;border-radius:3px;filter:blur(1.3px);"></div>
<div style="left:62px;top:300.2px;width:5.6px;height:5.6px;background:#9a9a9a;border-radius:50%;"></div>
<span style="top:300px;font-size:40px;line-height:48px;color:#fff;font-weight:700;left:64.8px;transform-origin:0 0;transform:scale(0.1) translateX(-50%);">i</span>
<span style="top:300px;font-size:43px;line-height:51.6px;color:#111;font-weight:700;left:79px;transform-origin:0 0;transform:scale(0.1);">请选择类目</span>
<span style="top:301px;font-size:35px;line-height:42px;color:#bbb;left:102px;transform-origin:0 0;transform:scale(0.1);">∨</span>
<div style="left:11.3px;top:320px;width:3.7px;height:3.7px;background:#3325c8;"></div>
<span style="top:320px;font-size:42px;line-height:50.4px;color:#333;left:17.5px;transform-origin:0 0;transform:scale(0.1);">访客数</span>
<span style="top:330px;font-size:43px;line-height:51.6px;color:#b4b4b8;left:11.7px;transform-origin:0 0;transform:scale(0.1);">80,000,000</span>
<span style="top:352px;font-size:43px;line-height:51.6px;color:#b4b4b8;left:11.7px;transform-origin:0 0;transform:scale(0.1);">60,000,000</span>
<span style="top:374px;font-size:43px;line-height:51.6px;color:#b4b4b8;left:11.7px;transform-origin:0 0;transform:scale(0.1);">40,000,000</span>
<span style="top:396px;font-size:43px;line-height:51.6px;color:#b4b4b8;left:11.7px;transform-origin:0 0;transform:scale(0.1);">20,000,000</span>
<span style="top:418px;font-size:43px;line-height:51.6px;color:#b4b4b8;left:11.7px;transform-origin:0 0;transform:scale(0.1);">0</span>
<span style="top:427px;font-size:44px;line-height:52.8px;color:#555;left:23px;transform-origin:0 0;transform:scale(0.1) translateX(-50%);">09-10</span>
<span style="top:427px;font-size:44px;line-height:52.8px;color:#555;left:56px;transform-origin:0 0;transform:scale(0.1) translateX(-50%);">09-13</span>
<span style="top:427px;font-size:44px;line-height:52.8px;color:#555;left:89px;transform-origin:0 0;transform:scale(0.1) translateX(-50%);">09-16</span>
<span style="top:427px;font-size:44px;line-height:52.8px;color:#555;left:122px;transform-origin:0 0;transform:scale(0.1) translateX(-50%);">09-19</span>
<span style="top:427px;font-size:44px;line-height:52.8px;color:#555;left:155px;transform-origin:0 0;transform:scale(0.1) translateX(-50%);">09-22</span>
<span style="top:427px;font-size:44px;line-height:52.8px;color:#555;left:188px;transform-origin:0 0;transform:scale(0.1) translateX(-50%);">09-25</span>
<span style="top:427px;font-size:44px;line-height:52.8px;color:#555;left:220.5px;transform-origin:0 0;transform:scale(0.1) translateX(-50%);">09-28</span>
<span style="top:427px;font-size:44px;line-height:52.8px;color:#555;left:253.5px;transform-origin:0 0;transform:scale(0.1) translateX(-50%);">10-01</span>
<span style="top:427px;font-size:44px;line-height:52.8px;color:#555;left:286.5px;transform-origin:0 0;transform:scale(0.1) translateX(-50%);">10-04</span>
<span style="top:427px;font-size:44px;line-height:52.8px;color:#555;left:341px;transform-origin:0 0;transform:scale(0.1) translateX(-50%);">10-09</span>
<svg style="left:0;top:222px" width="362" height="217" viewBox="0 222 362 217"><path d="M22.9,348.2 C26.4,348.1 38.0,347.6 44.0,347.6 C50.0,347.6 54.3,347.9 58.7,348.2 C63.1,348.5 67.1,349.3 70.5,349.4 C73.9,349.5 76.4,349.3 79.3,348.8 C82.2,348.3 84.2,346.8 88.1,346.4 C92.0,346.0 97.9,346.4 102.8,346.7 C107.7,347.0 112.6,347.5 117.5,348.2 C122.4,348.9 128.0,350.3 132.2,351.1 C136.3,351.9 138.0,352.9 142.4,353.2 C146.8,353.5 154.9,353.0 158.6,352.9 C162.3,352.8 161.8,352.2 164.5,352.3 C167.2,352.4 172.1,353.8 174.7,353.5 C177.3,353.2 178.1,351.8 180.0,350.5 C181.9,349.2 183.5,346.7 185.9,345.8 C188.3,344.9 191.3,345.1 194.7,345.0 C198.1,344.9 201.5,344.7 206.4,345.2 C211.3,345.7 218.6,347.4 224.0,348.2 C229.4,349.0 234.0,349.6 238.7,350.2 C243.4,350.8 247.8,351.9 252.0,352.0 C256.2,352.1 259.1,350.9 263.7,350.8 C268.3,350.7 275.7,351.2 279.9,351.1 C284.1,351.1 285.8,351.0 288.7,350.5 C291.6,350.0 293.6,349.1 297.5,348.2 C301.4,347.3 307.3,346.1 312.2,345.2 C317.1,344.3 323.4,343.3 326.8,342.6 C330.2,341.9 330.4,341.8 332.7,341.1 C335.0,340.4 339.3,338.7 340.6,338.2" fill="none" stroke="#6a62d2" stroke-width="1.25" stroke-linejoin="round" stroke-linecap="round"/></svg>
<!-- bottom-right -->
<div style="left:362px;top:222.5px;width:358px;height:217px;background:#fff;"></div>
<span style="top:234px;font-size:44.5px;line-height:53.4px;color:#444;left:372.8px;transform-origin:0 0;transform:scale(0.1);">统计时间 2018-10-08</span>
<div style="left:643.6px;top:232.3px;width:14.2px;height:10.3px;background:#fff;border:0.5px solid #e8e8ee;box-sizing:border-box;"></div>
<span style="top:235px;font-size:42px;line-height:50.4px;color:#333;left:650.7px;transform-origin:0 0;transform:scale(0.1) translateX(-50%);">实时</span>
<div style="left:660.3px;top:232.3px;width:10.4px;height:10.3px;background:#3325d0;"></div>
<span style="top:235px;font-size:42px;line-height:50.4px;color:#fff;left:665.5px;transform-origin:0 0;transform:scale(0.1) translateX(-50%);">日</span>
<span style="top:235px;font-size:42px;line-height:50.4px;color:#333;left:677px;transform-origin:0 0;transform:scale(0.1) translateX(-50%);">周</span>
<span style="top:235px;font-size:42px;line-height:50.4px;color:#333;left:688.5px;transform-origin:0 0;transform:scale(0.1) translateX(-50%);">月</span>
<span style="top:232px;font-size:70px;line-height:84px;color:#555;left:700px;transform-origin:0 0;transform:scale(0.1) translateX(-50%);font-family:'DejaVu Sans',sans-serif;">‹</span>
<div style="left:706.8px;top:232.3px;width:9.6px;height:10.3px;background:#fff;border:0.5px solid #ececf0;box-sizing:border-box;"></div>
<span style="top:232px;font-size:70px;line-height:84px;color:#ccc;left:711.6px;transform-origin:0 0;transform:scale(0.1) translateX(-50%);font-family:'DejaVu Sans',sans-serif;">›</span>
<div style="left:362.5px;top:246px;width:358px;height:4.2px;background:linear-gradient(180deg,#ececf2 0,#efeff4 60%,#f8f8fb 100%);"></div>
<span style="top:257px;font-size:56px;line-height:67.2px;color:#222;font-weight:700;left:373px;transform-origin:0 0;transform:scale(0.1);">贡献转化</span>
<span style="top:258px;font-size:43px;line-height:51.6px;color:#3a5bd9;left:643px;transform-origin:0 0;transform:scale(0.1);">下载</span>
<svg style="left:653px;top:258px" width="5" height="5" viewBox="0 0 5 5"><path d="M2.5 0.3 V3 M1.2 2 L2.5 3.3 L3.8 2 M0.5 4.4 H4.5" fill="none" stroke="#3a5bd9" stroke-width="0.6"/></svg>
<div style="left:663px;top:258.3px;width:3.6px;height:3.6px;background:#fff;border:0.5px solid #ddd;box-sizing:border-box;"></div>
<span style="top:258px;font-size:42px;line-height:50.4px;color:#333;left:667.5px;transform-origin:0 0;transform:scale(0.1);">同行同层对比</span>
<span style="top:258px;font-size:43px;line-height:51.6px;color:#3a5bd9;left:696px;transform-origin:0 0;transform:scale(0.1);">趋势</span>
<div style="left:705px;top:258px;width:0.5px;height:5px;background:#ccc;"></div>
<span style="top:258px;font-size:43px;line-height:51.6px;color:#333;left:707px;transform-origin:0 0;transform:scale(0.1);">列表</span>
<div style="left:372px;top:270.5px;width:345px;height:0.6px;background:#e8e8ee;"></div>
<div style="left:372px;top:269.6px;width:207px;height:1.5px;background:#3a2fd0;"></div>
<div style="left:372px;top:271px;width:69px;height:49.5px;background:none;border:0.5px solid #f2f2f6;box-sizing:border-box;"></div>
<span style="top:278px;font-size:48px;line-height:57.6px;color:#333;left:376px;transform-origin:0 0;transform:scale(0.1);">客服支付金额</span>
<div style="left:406.3px;top:279.2px;width:3.6px;height:3.6px;border-radius:50%;border:0.5px solid #ccc;box-sizing:border-box;"></div>
<span style="top:285px;font-size:98px;line-height:117.6px;color:#333;left:375.5px;transform-origin:0 0;transform:scale(0.1) scaleX(0.865);">20,621.49</span>
<span style="top:301px;font-size:40px;line-height:48px;color:#aaa;left:376px;transform-origin:0 0;transform:scale(0.1);">较前一日</span>
<span style="top:301px;font-size:45px;line-height:54px;color:#12b886;right:297.2px;transform-origin:100% 0;transform:scale(0.1);">38.18%</span>
<svg style="left:424.7px;top:301.09999999999997px" width="3.3" height="4.1" viewBox="0 0 4 6" preserveAspectRatio="none" overflow="visible"><path d="M2 6.2 L4.2 2.7 L3 2.7 L3 0 L1 0 L1 2.7 L-0.2 2.7 Z" fill="#12a070"/></svg>
<span style="top:308px;font-size:40px;line-height:48px;color:#aaa;left:376px;transform-origin:0 0;transform:scale(0.1);">较上周同期</span>
<span style="top:308px;font-size:45px;line-height:54px;color:#e0202a;right:297.2px;transform-origin:100% 0;transform:scale(0.1);">195.64%</span>
<svg style="left:424.7px;top:307.7px" width="3.3" height="4.1" viewBox="0 0 4 6" preserveAspectRatio="none" overflow="visible"><path d="M2 -0.2 L4.2 3.3 L3 3.3 L3 6 L1 6 L1 3.3 L-0.2 3.3 Z" fill="#e0202a"/></svg>
<svg style="left:433.5px;top:273.4px" width="5.9" height="5.9" viewBox="0 0 10 10"><circle cx="5" cy="5" r="5" fill="#3a2fd0"/><path d="M2.6 5.1 L4.4 6.9 L7.5 3.4" fill="none" stroke="#fff" stroke-width="1.3"/></svg>
<div style="left:441px;top:271px;width:69px;height:49.5px;background:none;border:0.5px solid #f2f2f6;box-sizing:border-box;"></div>
<span style="top:278px;font-size:48px;line-height:57.6px;color:#333;left:445px;transform-origin:0 0;transform:scale(0.1);">客服支付买家数</span>
<div style="left:480.1px;top:279.2px;width:3.6px;height:3.6px;border-radius:50%;border:0.5px solid #ccc;box-sizing:border-box;"></div>
<span style="top:285px;font-size:98px;line-height:117.6px;color:#333;left:444.5px;transform-origin:0 0;transform:scale(0.1) scaleX(0.865);">253</span>
<span style="top:301px;font-size:40px;line-height:48px;color:#aaa;left:445px;transform-origin:0 0;transform:scale(0.1);">较前一日</span>
<span style="top:301px;font-size:45px;line-height:54px;color:#12b886;right:228.2px;transform-origin:100% 0;transform:scale(0.1);">75.02%</span>
<svg style="left:493.7px;top:301.09999999999997px" width="3.3" height="4.1" viewBox="0 0 4 6" preserveAspectRatio="none" overflow="visible"><path d="M2 6.2 L4.2 2.7 L3 2.7 L3 0 L1 0 L1 2.7 L-0.2 2.7 Z" fill="#12a070"/></svg>
<span style="top:308px;font-size:40px;line-height:48px;color:#aaa;left:445px;transform-origin:0 0;transform:scale(0.1);">较上周同期</span>
<span style="top:308px;font-size:45px;line-height:54px;color:#e0202a;right:228.2px;transform-origin:100% 0;transform:scale(0.1);">112.61%</span>
<svg style="left:493.7px;top:307.7px" width="3.3" height="4.1" viewBox="0 0 4 6" preserveAspectRatio="none" overflow="visible"><path d="M2 -0.2 L4.2 3.3 L3 3.3 L3 6 L1 6 L1 3.3 L-0.2 3.3 Z" fill="#e0202a"/></svg>
<svg style="left:502.5px;top:273.4px" width="5.9" height="5.9" viewBox="0 0 10 10"><circle cx="5" cy="5" r="5" fill="#3a2fd0"/><path d="M2.6 5.1 L4.4 6.9 L7.5 3.4" fill="none" stroke="#fff" stroke-width="1.3"/></svg>
<div style="left:510px;top:271px;width:69px;height:49.5px;background:none;border:0.5px solid #f2f2f6;box-sizing:border-box;"></div>
<span style="top:278px;font-size:48px;line-height:57.6px;color:#333;left:514px;transform-origin:0 0;transform:scale(0.1);">客服支付件数</span>
<div style="left:544.3px;top:279.2px;width:3.6px;height:3.6px;border-radius:50%;border:0.5px solid #ccc;box-sizing:border-box;"></div>
<span style="top:285px;font-size:98px;line-height:117.6px;color:#333;left:513.5px;transform-origin:0 0;transform:scale(0.1) scaleX(0.865);">394</span>
<span style="top:301px;font-size:40px;line-height:48px;color:#aaa;left:514px;transform-origin:0 0;transform:scale(0.1);">较前一日</span>
<span style="top:301px;font-size:45px;line-height:54px;color:#12b886;right:159.2px;transform-origin:100% 0;transform:scale(0.1);">71.55%</span>
<svg style="left:562.7px;top:301.09999999999997px" width="3.3" height="4.1" viewBox="0 0 4 6" preserveAspectRatio="none" overflow="visible"><path d="M2 6.2 L4.2 2.7 L3 2.7 L3 0 L1 0 L1 2.7 L-0.2 2.7 Z" fill="#12a070"/></svg>
<span style="top:308px;font-size:40px;line-height:48px;color:#aaa;left:514px;transform-origin:0 0;transform:scale(0.1);">较上周同期</span>
<span style="top:308px;font-size:45px;line-height:54px;color:#e0202a;right:159.2px;transform-origin:100% 0;transform:scale(0.1);">143.21%</span>
<svg style="left:562.7px;top:307.7px" width="3.3" height="4.1" viewBox="0 0 4 6" preserveAspectRatio="none" overflow="visible"><path d="M2 -0.2 L4.2 3.3 L3 3.3 L3 6 L1 6 L1 3.3 L-0.2 3.3 Z" fill="#e0202a"/></svg>
<svg style="left:571.5px;top:273.4px" width="5.9" height="5.9" viewBox="0 0 10 10"><circle cx="5" cy="5" r="5" fill="#3a2fd0"/><path d="M2.6 5.1 L4.4 6.9 L7.5 3.4" fill="none" stroke="#fff" stroke-width="1.3"/></svg>
<div style="left:579px;top:271px;width:69px;height:49.5px;background:none;border:0.5px solid #f2f2f6;box-sizing:border-box;"></div>
<span style="top:278px;font-size:48px;line-height:57.6px;color:#333;left:583px;transform-origin:0 0;transform:scale(0.1);">客服客单价</span>
<div style="left:608.5px;top:279.2px;width:3.6px;height:3.6px;border-radius:50%;border:0.5px solid #ccc;box-sizing:border-box;"></div>
<span style="top:285px;font-size:98px;line-height:117.6px;color:#333;left:582.5px;transform-origin:0 0;transform:scale(0.1) scaleX(0.865);">81.51</span>
<span style="top:301px;font-size:40px;line-height:48px;color:#aaa;left:583px;transform-origin:0 0;transform:scale(0.1);">较前一日</span>
<span style="top:301px;font-size:45px;line-height:54px;color:#e0202a;right:90.2px;transform-origin:100% 0;transform:scale(0.1);">161.60%</span>
<svg style="left:631.7px;top:301.09999999999997px" width="3.3" height="4.1" viewBox="0 0 4 6" preserveAspectRatio="none" overflow="visible"><path d="M2 -0.2 L4.2 3.3 L3 3.3 L3 6 L1 6 L1 3.3 L-0.2 3.3 Z" fill="#e0202a"/></svg>
<span style="top:308px;font-size:40px;line-height:48px;color:#aaa;left:583px;transform-origin:0 0;transform:scale(0.1);">较上周同期</span>
<span style="top:308px;font-size:45px;line-height:54px;color:#e0202a;right:90.2px;transform-origin:100% 0;transform:scale(0.1);">39.06%</span>
<svg style="left:631.7px;top:307.7px" width="3.3" height="4.1" viewBox="0 0 4 6" preserveAspectRatio="none" overflow="visible"><path d="M2 -0.2 L4.2 3.3 L3 3.3 L3 6 L1 6 L1 3.3 L-0.2 3.3 Z" fill="#e0202a"/></svg>
<svg style="left:640.5px;top:273.4px" width="5.9" height="5.9" viewBox="0 0 10 10"><circle cx="5" cy="5" r="4.4" fill="#fff" stroke="#bbb" stroke-width="0.9"/><path d="M2.6 5.1 L4.4 6.9 L7.5 3.4" fill="none" stroke="#bbb" stroke-width="1.1"/></svg>
<div style="left:648px;top:271px;width:69px;height:49.5px;background:none;border:0.5px solid #f2f2f6;box-sizing:border-box;"></div>
<span style="top:278px;font-size:48px;line-height:57.6px;color:#333;left:652px;transform-origin:0 0;transform:scale(0.1);">客服件单价</span>
<div style="left:677.5px;top:279.2px;width:3.6px;height:3.6px;border-radius:50%;border:0.5px solid #ccc;box-sizing:border-box;"></div>
<span style="top:285px;font-size:98px;line-height:117.6px;color:#333;left:651.5px;transform-origin:0 0;transform:scale(0.1) scaleX(0.865);">52.34</span>
<span style="top:301px;font-size:40px;line-height:48px;color:#aaa;left:652px;transform-origin:0 0;transform:scale(0.1);">较前一日</span>
<span style="top:301px;font-size:45px;line-height:54px;color:#e0202a;right:21.2px;transform-origin:100% 0;transform:scale(0.1);">122.75%</span>
<svg style="left:700.7px;top:301.09999999999997px" width="3.3" height="4.1" viewBox="0 0 4 6" preserveAspectRatio="none" overflow="visible"><path d="M2 -0.2 L4.2 3.3 L3 3.3 L3 6 L1 6 L1 3.3 L-0.2 3.3 Z" fill="#e0202a"/></svg>
<span style="top:308px;font-size:40px;line-height:48px;color:#aaa;left:652px;transform-origin:0 0;transform:scale(0.1);">较上周同期</span>
<span style="top:308px;font-size:45px;line-height:54px;color:#bbb;right:21.2px;transform-origin:100% 0;transform:scale(0.1);">17.24%</span>
<svg style="left:700.7px;top:307.7px" width="3.3" height="4.1" viewBox="0 0 4 6" preserveAspectRatio="none" overflow="visible"><path d="M2 -0.2 L4.2 3.3 L3 3.3 L3 6 L1 6 L1 3.3 L-0.2 3.3 Z" fill="#e0202a"/></svg>
<svg style="left:709.5px;top:273.4px" width="5.9" height="5.9" viewBox="0 0 10 10"><circle cx="5" cy="5" r="4.4" fill="#fff" stroke="#bbb" stroke-width="0.9"/><path d="M2.6 5.1 L4.4 6.9 L7.5 3.4" fill="none" stroke="#bbb" stroke-width="1.1"/></svg>
<div style="left:373.4px;top:330.2px;width:3.6px;height:3.6px;background:#3325c8;"></div>
<span style="top:330px;font-size:42px;line-height:50.4px;color:#333;left:380px;transform-origin:0 0;transform:scale(0.1);">客服支付金额</span>
<div style="left:417px;top:330.2px;width:3.6px;height:3.6px;background:#f5cf1a;"></div>
<span style="top:330px;font-size:42px;line-height:50.4px;color:#333;left:424.2px;transform-origin:0 0;transform:scale(0.1);">客服支付买家数</span>
<div style="left:465.4px;top:330.2px;width:3.6px;height:3.6px;background:#e8901a;"></div>
<span style="top:330px;font-size:42px;line-height:50.4px;color:#333;left:472.5px;transform-origin:0 0;transform:scale(0.1);">客服支付件数</span>
<span style="top:432px;font-size:44px;line-height:52.8px;color:#555;left:384.5px;transform-origin:0 0;transform:scale(0.1) translateX(-50%);">09-09</span>
<span style="top:432px;font-size:44px;line-height:52.8px;color:#555;left:418px;transform-origin:0 0;transform:scale(0.1) translateX(-50%);">09-12</span>
<span style="top:432px;font-size:44px;line-height:52.8px;color:#555;left:451.5px;transform-origin:0 0;transform:scale(0.1) translateX(-50%);">09-15</span>
<span style="top:432px;font-size:44px;line-height:52.8px;color:#555;left:485px;transform-origin:0 0;transform:scale(0.1) translateX(-50%);">09-18</span>
<span style="top:432px;font-size:44px;line-height:52.8px;color:#555;left:518px;transform-origin:0 0;transform:scale(0.1) translateX(-50%);">09-21</span>
<span style="top:432px;font-size:44px;line-height:52.8px;color:#555;left:552px;transform-origin:0 0;transform:scale(0.1) translateX(-50%);">09-24</span>
<span style="top:432px;font-size:44px;line-height:52.8px;color:#555;left:585px;transform-origin:0 0;transform:scale(0.1) translateX(-50%);">09-27</span>
<span style="top:432px;font-size:44px;line-height:52.8px;color:#555;left:618px;transform-origin:0 0;transform:scale(0.1) translateX(-50%);">09-30</span>
<span style="top:432px;font-size:44px;line-height:52.8px;color:#555;left:651px;transform-origin:0 0;transform:scale(0.1) translateX(-50%);">10-03</span>
<span style="top:432px;font-size:44px;line-height:52.8px;color:#555;left:706px;transform-origin:0 0;transform:scale(0.1) translateX(-50%);">10-08</span>
<svg style="left:362px;top:222px" width="358" height="217" viewBox="362 222 358 217"><path d="M384.9,359.3 C386.4,363.3 392.0,377.9 395.0,386.0 C398.0,394.1 401.2,409.0 404.7,413.5 C408.2,418.0 415.4,417.6 418.3,416.2 C421.2,414.8 422.4,408.5 424.0,404.0 C425.6,399.5 427.6,387.1 429.1,386.4 C430.6,385.6 432.4,395.3 434.0,399.0 C435.6,402.7 437.7,409.3 440.0,410.8 C442.3,412.3 446.1,409.6 449.5,408.9 C452.9,408.2 459.3,406.3 463.0,406.2 C466.7,406.1 470.9,408.0 473.9,408.1 C476.9,408.2 480.1,406.1 483.3,406.7 C486.5,407.3 492.0,411.0 495.5,412.2 C499.0,413.4 503.9,415.2 506.4,414.9 C508.9,414.6 510.4,411.5 512.0,410.0 C513.6,408.5 515.7,404.8 517.2,404.6 C518.7,404.5 520.6,407.7 522.0,409.0 C523.4,410.3 524.0,412.9 526.7,413.5 C529.4,414.1 536.6,412.4 540.0,412.7 C543.4,413.0 546.5,415.6 549.5,415.4 C552.5,415.2 556.6,412.5 560.3,411.6 C564.0,410.7 571.1,410.4 573.9,409.4 C576.7,408.4 577.6,406.2 579.0,405.0 C580.4,403.8 581.1,401.6 583.4,401.3 C585.7,401.0 589.7,401.5 594.2,402.7 C598.7,403.9 609.3,407.4 613.2,409.4 C617.1,411.4 618.0,414.2 620.0,416.0 C622.0,417.8 624.3,421.2 626.7,421.6 C629.1,422.1 632.7,419.9 636.0,419.0 C639.3,418.1 644.9,415.5 648.4,415.4 C651.9,415.3 654.2,417.4 659.3,418.1 C664.4,418.8 678.1,421.5 682.3,420.3 C686.5,419.1 685.7,413.3 687.0,410.0 C688.3,406.7 689.9,400.5 691.0,398.5 C692.1,396.5 693.3,396.3 694.5,396.4 C695.7,396.5 697.6,397.5 699.0,399.0 C700.4,400.5 703.2,405.5 704.0,406.7" fill="none" stroke="#4a40d0" stroke-width="1.3" stroke-linejoin="round" stroke-linecap="round"/><path d="M384.9,353.1 C385.7,354.0 388.5,356.6 390.0,359.0 C391.5,361.4 393.7,363.9 395.2,368.8 C396.7,373.8 398.6,385.3 400.0,392.0 C401.4,398.7 402.0,410.0 404.7,413.5 C407.4,417.0 415.4,418.2 418.3,415.4 C421.2,412.6 422.4,401.5 424.0,395.0 C425.6,388.5 427.6,372.4 429.1,372.0 C430.6,371.6 432.4,386.6 434.0,392.0 C435.6,397.4 437.4,405.8 440.0,408.1 C442.6,410.4 447.6,407.9 451.0,407.5 C454.4,407.1 458.8,404.8 463.0,405.4 C467.2,406.0 473.2,410.4 479.3,411.6 C485.4,412.8 498.9,414.2 503.7,413.5 C508.5,412.8 509.0,409.2 511.0,407.0 C513.0,404.8 515.6,398.8 517.2,398.6 C518.9,398.5 520.6,403.6 522.0,406.0 C523.4,408.4 524.0,413.3 526.7,414.3 C529.4,415.3 536.6,412.3 540.0,412.7 C543.4,413.1 546.5,417.2 549.5,417.0 C552.5,416.8 556.6,412.5 560.3,411.6 C564.0,410.7 571.1,412.5 573.9,410.8 C576.7,409.1 577.6,402.6 579.0,400.0 C580.4,397.4 581.1,394.4 583.4,393.7 C585.7,393.0 591.1,394.1 594.2,395.3 C597.3,396.5 601.1,399.9 604.0,402.0 C606.9,404.1 610.8,407.1 613.2,409.4 C615.6,411.6 618.0,415.0 620.0,417.0 C622.0,419.0 624.3,422.0 626.7,422.5 C629.1,423.0 632.7,421.2 636.0,420.5 C639.3,419.8 641.5,417.9 648.4,418.1 C655.3,418.3 676.6,424.6 682.3,421.6 C688.0,418.6 685.3,404.5 686.5,398.0 C687.7,391.5 689.0,381.9 690.0,378.0 C691.0,374.1 692.2,371.7 693.2,372.0 C694.2,372.3 695.8,376.1 697.0,380.0 C698.2,383.9 700.0,393.4 701.0,398.0 C702.0,402.6 703.5,408.9 704.0,410.8" fill="none" stroke="#ee8f28" stroke-width="1.3" stroke-linejoin="round" stroke-linecap="round"/><path d="M384.9,359.3 C385.7,359.4 388.4,359.7 390.0,360.0 C391.6,360.3 394.3,359.4 395.5,361.2 C396.7,363.0 397.0,366.5 398.0,372.0 C399.0,377.5 400.8,391.6 402.0,398.0 C403.2,404.4 403.6,412.0 406.0,414.9 C408.4,417.8 415.6,419.2 418.3,417.6 C421.0,416.0 422.4,408.9 424.0,404.0 C425.6,399.1 427.6,385.9 429.1,385.0 C430.6,384.1 432.4,394.4 434.0,398.0 C435.6,401.6 437.4,407.4 440.0,408.9 C442.6,410.4 447.6,408.4 451.0,408.0 C454.4,407.6 458.8,405.6 463.0,406.2 C467.2,406.8 473.2,411.1 479.3,412.2 C485.4,413.3 498.9,414.9 503.7,413.5 C508.5,412.1 509.0,406.1 511.0,403.0 C513.0,399.9 515.6,392.6 517.2,392.6 C518.9,392.6 520.6,399.7 522.0,403.0 C523.4,406.3 524.0,412.8 526.7,414.3 C529.4,415.8 536.6,412.3 540.0,412.7 C543.4,413.1 546.5,417.2 549.5,417.0 C552.5,416.8 556.6,412.4 560.3,411.6 C564.0,410.8 571.1,414.5 573.9,411.6 C576.7,408.7 577.6,396.3 579.0,392.0 C580.4,387.7 581.3,384.1 583.4,382.9 C585.5,381.7 590.0,382.0 592.9,383.7 C595.8,385.4 600.0,390.1 603.0,394.0 C606.0,397.9 610.7,405.9 613.2,409.4 C615.8,412.8 618.0,415.0 620.0,417.0 C622.0,419.0 624.3,421.9 626.7,422.5 C629.1,423.1 632.7,421.5 636.0,421.0 C639.3,420.5 641.5,418.8 648.4,419.0 C655.3,419.2 676.6,426.9 682.3,422.5 C688.0,418.1 685.3,398.8 686.5,390.0 C687.7,381.2 688.8,368.8 690.0,364.0 C691.2,359.2 693.3,357.7 694.5,358.0 C695.7,358.3 697.0,361.2 698.0,366.0 C699.0,370.8 700.1,382.9 701.0,390.0 C701.9,397.1 703.5,410.0 704.0,413.5" fill="none" stroke="#f5d21c" stroke-width="1.3" stroke-linejoin="round" stroke-linecap="round"/></svg>
</div><div id="soft"></div></body></html>
